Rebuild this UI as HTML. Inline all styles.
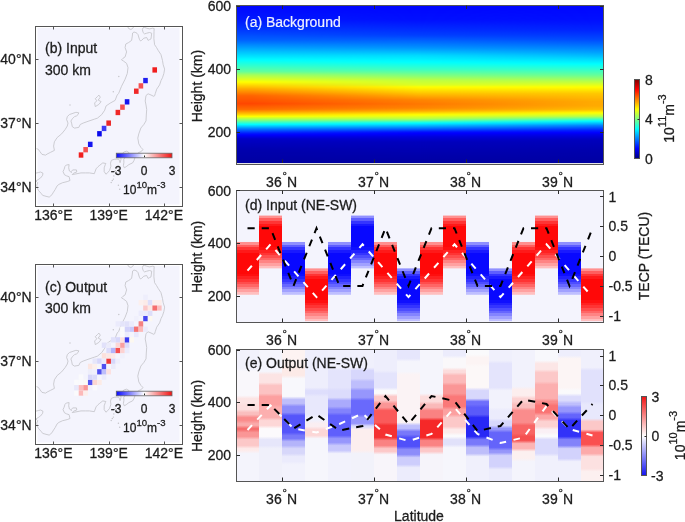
<!DOCTYPE html>
<html><head><meta charset="utf-8"><style>
html,body{margin:0;padding:0;background:#fff;width:685px;height:522px;overflow:hidden}
svg{display:block;font-family:"Liberation Sans", sans-serif;will-change:transform}
text{stroke:#1c1c1c;stroke-width:0.28px}
text.w{stroke:#eef0ff;stroke-width:0.2px}
</style></head><body>
<svg width="685" height="522" viewBox="0 0 685 522">
<defs><linearGradient id="gAL" x1="0" y1="0" x2="0" y2="1"><stop offset="0.0032" stop-color="#0007ff"/><stop offset="0.0096" stop-color="#0008ff"/><stop offset="0.0159" stop-color="#000aff"/><stop offset="0.0223" stop-color="#000bff"/><stop offset="0.0287" stop-color="#000dff"/><stop offset="0.0350" stop-color="#000eff"/><stop offset="0.0414" stop-color="#000fff"/><stop offset="0.0478" stop-color="#0011ff"/><stop offset="0.0541" stop-color="#0012ff"/><stop offset="0.0605" stop-color="#0013ff"/><stop offset="0.0669" stop-color="#0015ff"/><stop offset="0.0732" stop-color="#0016ff"/><stop offset="0.0796" stop-color="#0017ff"/><stop offset="0.0860" stop-color="#0019ff"/><stop offset="0.0924" stop-color="#001bff"/><stop offset="0.0987" stop-color="#001eff"/><stop offset="0.1051" stop-color="#0021ff"/><stop offset="0.1115" stop-color="#0024ff"/><stop offset="0.1178" stop-color="#0027ff"/><stop offset="0.1242" stop-color="#002aff"/><stop offset="0.1306" stop-color="#002dff"/><stop offset="0.1369" stop-color="#0030ff"/><stop offset="0.1433" stop-color="#0034ff"/><stop offset="0.1497" stop-color="#0037ff"/><stop offset="0.1561" stop-color="#003aff"/><stop offset="0.1624" stop-color="#003eff"/><stop offset="0.1688" stop-color="#0042ff"/><stop offset="0.1752" stop-color="#0046ff"/><stop offset="0.1815" stop-color="#004aff"/><stop offset="0.1879" stop-color="#004fff"/><stop offset="0.1943" stop-color="#0053ff"/><stop offset="0.2006" stop-color="#0057ff"/><stop offset="0.2070" stop-color="#005bff"/><stop offset="0.2134" stop-color="#005fff"/><stop offset="0.2197" stop-color="#0065ff"/><stop offset="0.2261" stop-color="#006dff"/><stop offset="0.2325" stop-color="#0075ff"/><stop offset="0.2389" stop-color="#007dff"/><stop offset="0.2452" stop-color="#0086ff"/><stop offset="0.2516" stop-color="#008eff"/><stop offset="0.2580" stop-color="#0096ff"/><stop offset="0.2643" stop-color="#009eff"/><stop offset="0.2707" stop-color="#00a6ff"/><stop offset="0.2771" stop-color="#00aeff"/><stop offset="0.2834" stop-color="#00b6ff"/><stop offset="0.2898" stop-color="#00beff"/><stop offset="0.2962" stop-color="#00c6ff"/><stop offset="0.3025" stop-color="#00cdff"/><stop offset="0.3089" stop-color="#00d5ff"/><stop offset="0.3153" stop-color="#00ddff"/><stop offset="0.3217" stop-color="#00e4ff"/><stop offset="0.3280" stop-color="#00ecff"/><stop offset="0.3344" stop-color="#00f4ff"/><stop offset="0.3408" stop-color="#00fbff"/><stop offset="0.3471" stop-color="#04fffb"/><stop offset="0.3535" stop-color="#0dfff2"/><stop offset="0.3599" stop-color="#16ffe9"/><stop offset="0.3662" stop-color="#1effe1"/><stop offset="0.3726" stop-color="#27ffd8"/><stop offset="0.3790" stop-color="#2fffd0"/><stop offset="0.3854" stop-color="#38ffc7"/><stop offset="0.3917" stop-color="#41ffbe"/><stop offset="0.3981" stop-color="#49ffb6"/><stop offset="0.4045" stop-color="#52ffad"/><stop offset="0.4108" stop-color="#5affa5"/><stop offset="0.4172" stop-color="#63ff9c"/><stop offset="0.4236" stop-color="#76ff89"/><stop offset="0.4299" stop-color="#8aff75"/><stop offset="0.4363" stop-color="#9eff61"/><stop offset="0.4427" stop-color="#aeff51"/><stop offset="0.4490" stop-color="#bbff44"/><stop offset="0.4554" stop-color="#c7ff38"/><stop offset="0.4618" stop-color="#d4ff2b"/><stop offset="0.4682" stop-color="#e0ff1f"/><stop offset="0.4745" stop-color="#ecff13"/><stop offset="0.4809" stop-color="#f9ff06"/><stop offset="0.4873" stop-color="#fff900"/><stop offset="0.4936" stop-color="#ffec00"/><stop offset="0.5000" stop-color="#ffe000"/><stop offset="0.5064" stop-color="#ffd300"/><stop offset="0.5127" stop-color="#ffc700"/><stop offset="0.5191" stop-color="#ffbb00"/><stop offset="0.5255" stop-color="#ffae00"/><stop offset="0.5318" stop-color="#ffa300"/><stop offset="0.5382" stop-color="#ff9900"/><stop offset="0.5446" stop-color="#ff8f00"/><stop offset="0.5510" stop-color="#ff8500"/><stop offset="0.5573" stop-color="#ff7a00"/><stop offset="0.5637" stop-color="#ff7000"/><stop offset="0.5701" stop-color="#ff6600"/><stop offset="0.5764" stop-color="#ff6100"/><stop offset="0.5828" stop-color="#ff5d00"/><stop offset="0.5892" stop-color="#ff5a00"/><stop offset="0.5955" stop-color="#ff5600"/><stop offset="0.6019" stop-color="#ff5200"/><stop offset="0.6083" stop-color="#ff4f00"/><stop offset="0.6146" stop-color="#ff4b00"/><stop offset="0.6210" stop-color="#ff4700"/><stop offset="0.6274" stop-color="#ff4c00"/><stop offset="0.6338" stop-color="#ff5300"/><stop offset="0.6401" stop-color="#ff5a00"/><stop offset="0.6465" stop-color="#ff6000"/><stop offset="0.6529" stop-color="#ff6700"/><stop offset="0.6592" stop-color="#ff6e00"/><stop offset="0.6656" stop-color="#ff8200"/><stop offset="0.6720" stop-color="#ff9500"/><stop offset="0.6783" stop-color="#ffa900"/><stop offset="0.6847" stop-color="#ffbc00"/><stop offset="0.6911" stop-color="#ffd100"/><stop offset="0.6975" stop-color="#ffe900"/><stop offset="0.7038" stop-color="#fcff03"/><stop offset="0.7102" stop-color="#dcff23"/><stop offset="0.7166" stop-color="#bdff42"/><stop offset="0.7229" stop-color="#9dff62"/><stop offset="0.7293" stop-color="#7dff82"/><stop offset="0.7357" stop-color="#5dffa2"/><stop offset="0.7420" stop-color="#3dffc2"/><stop offset="0.7484" stop-color="#1dffe2"/><stop offset="0.7548" stop-color="#00fcff"/><stop offset="0.7611" stop-color="#00dfff"/><stop offset="0.7675" stop-color="#00c2ff"/><stop offset="0.7739" stop-color="#00a4ff"/><stop offset="0.7803" stop-color="#0087ff"/><stop offset="0.7866" stop-color="#006dff"/><stop offset="0.7930" stop-color="#0058ff"/><stop offset="0.7994" stop-color="#0042ff"/><stop offset="0.8057" stop-color="#002cff"/><stop offset="0.8121" stop-color="#0017ff"/><stop offset="0.8185" stop-color="#0008ff"/><stop offset="0.8248" stop-color="#0000f8"/><stop offset="0.8312" stop-color="#0000ea"/><stop offset="0.8376" stop-color="#0000dc"/><stop offset="0.8439" stop-color="#0000ce"/><stop offset="0.8503" stop-color="#0000c6"/><stop offset="0.8567" stop-color="#0000c3"/><stop offset="0.8631" stop-color="#0000c1"/><stop offset="0.8694" stop-color="#0000bf"/><stop offset="0.8758" stop-color="#0000bc"/><stop offset="0.8822" stop-color="#0000ba"/><stop offset="0.8885" stop-color="#0000b8"/><stop offset="0.8949" stop-color="#0000b6"/><stop offset="0.9013" stop-color="#0000b3"/><stop offset="0.9076" stop-color="#0000b1"/><stop offset="0.9140" stop-color="#0000af"/><stop offset="0.9204" stop-color="#0000ad"/><stop offset="0.9268" stop-color="#0000ac"/><stop offset="0.9331" stop-color="#0000ab"/><stop offset="0.9395" stop-color="#0000aa"/><stop offset="0.9459" stop-color="#0000aa"/><stop offset="0.9522" stop-color="#0000a9"/><stop offset="0.9586" stop-color="#0000a8"/><stop offset="0.9650" stop-color="#0000a7"/><stop offset="0.9713" stop-color="#0000a6"/><stop offset="0.9777" stop-color="#0000a5"/><stop offset="0.9841" stop-color="#0000a4"/><stop offset="0.9904" stop-color="#0000a4"/><stop offset="0.9968" stop-color="#0000a3"/><stop offset="1.0032" stop-color="#0000a3"/></linearGradient><linearGradient id="gAM" x1="0" y1="0" x2="0" y2="1"><stop offset="0.0032" stop-color="#0006ff"/><stop offset="0.0096" stop-color="#0007ff"/><stop offset="0.0159" stop-color="#0007ff"/><stop offset="0.0223" stop-color="#0008ff"/><stop offset="0.0287" stop-color="#0009ff"/><stop offset="0.0350" stop-color="#000aff"/><stop offset="0.0414" stop-color="#000aff"/><stop offset="0.0478" stop-color="#000bff"/><stop offset="0.0541" stop-color="#000cff"/><stop offset="0.0605" stop-color="#000cff"/><stop offset="0.0669" stop-color="#000dff"/><stop offset="0.0732" stop-color="#000eff"/><stop offset="0.0796" stop-color="#000eff"/><stop offset="0.0860" stop-color="#000fff"/><stop offset="0.0924" stop-color="#0011ff"/><stop offset="0.0987" stop-color="#0014ff"/><stop offset="0.1051" stop-color="#0017ff"/><stop offset="0.1115" stop-color="#001aff"/><stop offset="0.1178" stop-color="#001dff"/><stop offset="0.1242" stop-color="#0020ff"/><stop offset="0.1306" stop-color="#0023ff"/><stop offset="0.1369" stop-color="#0026ff"/><stop offset="0.1433" stop-color="#0029ff"/><stop offset="0.1497" stop-color="#002cff"/><stop offset="0.1561" stop-color="#002fff"/><stop offset="0.1624" stop-color="#0032ff"/><stop offset="0.1688" stop-color="#0036ff"/><stop offset="0.1752" stop-color="#0039ff"/><stop offset="0.1815" stop-color="#003cff"/><stop offset="0.1879" stop-color="#0041ff"/><stop offset="0.1943" stop-color="#0047ff"/><stop offset="0.2006" stop-color="#004eff"/><stop offset="0.2070" stop-color="#0055ff"/><stop offset="0.2134" stop-color="#005bff"/><stop offset="0.2197" stop-color="#0062ff"/><stop offset="0.2261" stop-color="#0069ff"/><stop offset="0.2325" stop-color="#006fff"/><stop offset="0.2389" stop-color="#0076ff"/><stop offset="0.2452" stop-color="#007dff"/><stop offset="0.2516" stop-color="#0083ff"/><stop offset="0.2580" stop-color="#008aff"/><stop offset="0.2643" stop-color="#0091ff"/><stop offset="0.2707" stop-color="#0099ff"/><stop offset="0.2771" stop-color="#00a2ff"/><stop offset="0.2834" stop-color="#00abff"/><stop offset="0.2898" stop-color="#00b5ff"/><stop offset="0.2962" stop-color="#00beff"/><stop offset="0.3025" stop-color="#00c8ff"/><stop offset="0.3089" stop-color="#00d1ff"/><stop offset="0.3153" stop-color="#00daff"/><stop offset="0.3217" stop-color="#00e0ff"/><stop offset="0.3280" stop-color="#00e6ff"/><stop offset="0.3344" stop-color="#00ebff"/><stop offset="0.3408" stop-color="#00f1ff"/><stop offset="0.3471" stop-color="#00f7ff"/><stop offset="0.3535" stop-color="#00fcff"/><stop offset="0.3599" stop-color="#04fffb"/><stop offset="0.3662" stop-color="#0cfff3"/><stop offset="0.3726" stop-color="#14ffeb"/><stop offset="0.3790" stop-color="#1cffe3"/><stop offset="0.3854" stop-color="#24ffdb"/><stop offset="0.3917" stop-color="#2cffd3"/><stop offset="0.3981" stop-color="#34ffcb"/><stop offset="0.4045" stop-color="#3cffc3"/><stop offset="0.4108" stop-color="#48ffb7"/><stop offset="0.4172" stop-color="#54ffab"/><stop offset="0.4236" stop-color="#5fffa0"/><stop offset="0.4299" stop-color="#6bff94"/><stop offset="0.4363" stop-color="#77ff88"/><stop offset="0.4427" stop-color="#82ff7d"/><stop offset="0.4490" stop-color="#8eff71"/><stop offset="0.4554" stop-color="#9bff64"/><stop offset="0.4618" stop-color="#a8ff57"/><stop offset="0.4682" stop-color="#b6ff49"/><stop offset="0.4745" stop-color="#c0ff3f"/><stop offset="0.4809" stop-color="#c6ff39"/><stop offset="0.4873" stop-color="#ccff33"/><stop offset="0.4936" stop-color="#d2ff2d"/><stop offset="0.5000" stop-color="#d8ff27"/><stop offset="0.5064" stop-color="#e4ff1b"/><stop offset="0.5127" stop-color="#f6ff09"/><stop offset="0.5191" stop-color="#fffa00"/><stop offset="0.5255" stop-color="#fff100"/><stop offset="0.5318" stop-color="#ffe800"/><stop offset="0.5382" stop-color="#ffde00"/><stop offset="0.5446" stop-color="#ffd500"/><stop offset="0.5510" stop-color="#ffcc00"/><stop offset="0.5573" stop-color="#ffc200"/><stop offset="0.5637" stop-color="#ffb900"/><stop offset="0.5701" stop-color="#ffaf00"/><stop offset="0.5764" stop-color="#ffa600"/><stop offset="0.5828" stop-color="#ff9c00"/><stop offset="0.5892" stop-color="#ff9300"/><stop offset="0.5955" stop-color="#ff8900"/><stop offset="0.6019" stop-color="#ff8300"/><stop offset="0.6083" stop-color="#ff8000"/><stop offset="0.6146" stop-color="#ff7d00"/><stop offset="0.6210" stop-color="#ff7900"/><stop offset="0.6274" stop-color="#ff7900"/><stop offset="0.6338" stop-color="#ff7d00"/><stop offset="0.6401" stop-color="#ff8000"/><stop offset="0.6465" stop-color="#ff8300"/><stop offset="0.6529" stop-color="#ff8b00"/><stop offset="0.6592" stop-color="#ff9700"/><stop offset="0.6656" stop-color="#ffa400"/><stop offset="0.6720" stop-color="#ffb600"/><stop offset="0.6783" stop-color="#ffcd00"/><stop offset="0.6847" stop-color="#ffe400"/><stop offset="0.6911" stop-color="#fff900"/><stop offset="0.6975" stop-color="#f3ff0c"/><stop offset="0.7038" stop-color="#e0ff1f"/><stop offset="0.7102" stop-color="#ceff31"/><stop offset="0.7166" stop-color="#bcff43"/><stop offset="0.7229" stop-color="#9cff63"/><stop offset="0.7293" stop-color="#70ff8f"/><stop offset="0.7357" stop-color="#43ffbc"/><stop offset="0.7420" stop-color="#16ffe9"/><stop offset="0.7484" stop-color="#00f2ff"/><stop offset="0.7548" stop-color="#00d8ff"/><stop offset="0.7611" stop-color="#00bdff"/><stop offset="0.7675" stop-color="#00a3ff"/><stop offset="0.7739" stop-color="#0088ff"/><stop offset="0.7803" stop-color="#006eff"/><stop offset="0.7866" stop-color="#0053ff"/><stop offset="0.7930" stop-color="#0038ff"/><stop offset="0.7994" stop-color="#001dff"/><stop offset="0.8057" stop-color="#000aff"/><stop offset="0.8121" stop-color="#0000ff"/><stop offset="0.8185" stop-color="#0000f5"/><stop offset="0.8248" stop-color="#0000eb"/><stop offset="0.8312" stop-color="#0000e0"/><stop offset="0.8376" stop-color="#0000d8"/><stop offset="0.8439" stop-color="#0000d2"/><stop offset="0.8503" stop-color="#0000cc"/><stop offset="0.8567" stop-color="#0000c6"/><stop offset="0.8631" stop-color="#0000c0"/><stop offset="0.8694" stop-color="#0000bc"/><stop offset="0.8758" stop-color="#0000bb"/><stop offset="0.8822" stop-color="#0000ba"/><stop offset="0.8885" stop-color="#0000b8"/><stop offset="0.8949" stop-color="#0000b7"/><stop offset="0.9013" stop-color="#0000b6"/><stop offset="0.9076" stop-color="#0000b4"/><stop offset="0.9140" stop-color="#0000b3"/><stop offset="0.9204" stop-color="#0000b2"/><stop offset="0.9268" stop-color="#0000b1"/><stop offset="0.9331" stop-color="#0000af"/><stop offset="0.9395" stop-color="#0000ae"/><stop offset="0.9459" stop-color="#0000ad"/><stop offset="0.9522" stop-color="#0000ab"/><stop offset="0.9586" stop-color="#0000aa"/><stop offset="0.9650" stop-color="#0000a9"/><stop offset="0.9713" stop-color="#0000a8"/><stop offset="0.9777" stop-color="#0000a6"/><stop offset="0.9841" stop-color="#0000a5"/><stop offset="0.9904" stop-color="#0000a4"/><stop offset="0.9968" stop-color="#0000a3"/><stop offset="1.0032" stop-color="#0000a3"/></linearGradient><linearGradient id="gAR" x1="0" y1="0" x2="0" y2="1"><stop offset="0.0032" stop-color="#0006ff"/><stop offset="0.0096" stop-color="#0007ff"/><stop offset="0.0159" stop-color="#0007ff"/><stop offset="0.0223" stop-color="#0008ff"/><stop offset="0.0287" stop-color="#0009ff"/><stop offset="0.0350" stop-color="#000aff"/><stop offset="0.0414" stop-color="#000aff"/><stop offset="0.0478" stop-color="#000bff"/><stop offset="0.0541" stop-color="#000cff"/><stop offset="0.0605" stop-color="#000cff"/><stop offset="0.0669" stop-color="#000dff"/><stop offset="0.0732" stop-color="#000eff"/><stop offset="0.0796" stop-color="#000eff"/><stop offset="0.0860" stop-color="#000fff"/><stop offset="0.0924" stop-color="#0010ff"/><stop offset="0.0987" stop-color="#0012ff"/><stop offset="0.1051" stop-color="#0014ff"/><stop offset="0.1115" stop-color="#0016ff"/><stop offset="0.1178" stop-color="#0018ff"/><stop offset="0.1242" stop-color="#001bff"/><stop offset="0.1306" stop-color="#001dff"/><stop offset="0.1369" stop-color="#001fff"/><stop offset="0.1433" stop-color="#0021ff"/><stop offset="0.1497" stop-color="#0023ff"/><stop offset="0.1561" stop-color="#0026ff"/><stop offset="0.1624" stop-color="#002aff"/><stop offset="0.1688" stop-color="#002eff"/><stop offset="0.1752" stop-color="#0032ff"/><stop offset="0.1815" stop-color="#0036ff"/><stop offset="0.1879" stop-color="#003aff"/><stop offset="0.1943" stop-color="#003eff"/><stop offset="0.2006" stop-color="#0042ff"/><stop offset="0.2070" stop-color="#0046ff"/><stop offset="0.2134" stop-color="#004aff"/><stop offset="0.2197" stop-color="#0050ff"/><stop offset="0.2261" stop-color="#0057ff"/><stop offset="0.2325" stop-color="#005eff"/><stop offset="0.2389" stop-color="#0064ff"/><stop offset="0.2452" stop-color="#006bff"/><stop offset="0.2516" stop-color="#0072ff"/><stop offset="0.2580" stop-color="#0079ff"/><stop offset="0.2643" stop-color="#0080ff"/><stop offset="0.2707" stop-color="#0086ff"/><stop offset="0.2771" stop-color="#008dff"/><stop offset="0.2834" stop-color="#0094ff"/><stop offset="0.2898" stop-color="#009bff"/><stop offset="0.2962" stop-color="#00a2ff"/><stop offset="0.3025" stop-color="#00aaff"/><stop offset="0.3089" stop-color="#00b2ff"/><stop offset="0.3153" stop-color="#00baff"/><stop offset="0.3217" stop-color="#00c2ff"/><stop offset="0.3280" stop-color="#00cbff"/><stop offset="0.3344" stop-color="#00d3ff"/><stop offset="0.3408" stop-color="#00dbff"/><stop offset="0.3471" stop-color="#00e3ff"/><stop offset="0.3535" stop-color="#00ebff"/><stop offset="0.3599" stop-color="#00f3ff"/><stop offset="0.3662" stop-color="#00fbff"/><stop offset="0.3726" stop-color="#05fffa"/><stop offset="0.3790" stop-color="#0efff1"/><stop offset="0.3854" stop-color="#17ffe8"/><stop offset="0.3917" stop-color="#20ffdf"/><stop offset="0.3981" stop-color="#29ffd6"/><stop offset="0.4045" stop-color="#32ffcd"/><stop offset="0.4108" stop-color="#3bffc4"/><stop offset="0.4172" stop-color="#44ffbb"/><stop offset="0.4236" stop-color="#4dffb2"/><stop offset="0.4299" stop-color="#56ffa9"/><stop offset="0.4363" stop-color="#5fffa0"/><stop offset="0.4427" stop-color="#6aff95"/><stop offset="0.4490" stop-color="#77ff88"/><stop offset="0.4554" stop-color="#84ff7b"/><stop offset="0.4618" stop-color="#91ff6e"/><stop offset="0.4682" stop-color="#9eff61"/><stop offset="0.4745" stop-color="#abff54"/><stop offset="0.4809" stop-color="#b8ff47"/><stop offset="0.4873" stop-color="#c4ff3b"/><stop offset="0.4936" stop-color="#d1ff2e"/><stop offset="0.5000" stop-color="#ddff22"/><stop offset="0.5064" stop-color="#eaff15"/><stop offset="0.5127" stop-color="#f6ff09"/><stop offset="0.5191" stop-color="#fffb00"/><stop offset="0.5255" stop-color="#fff200"/><stop offset="0.5318" stop-color="#ffea00"/><stop offset="0.5382" stop-color="#ffe100"/><stop offset="0.5446" stop-color="#ffd800"/><stop offset="0.5510" stop-color="#ffd000"/><stop offset="0.5573" stop-color="#ffc800"/><stop offset="0.5637" stop-color="#ffc400"/><stop offset="0.5701" stop-color="#ffc000"/><stop offset="0.5764" stop-color="#ffbc00"/><stop offset="0.5828" stop-color="#ffb900"/><stop offset="0.5892" stop-color="#ffb500"/><stop offset="0.5955" stop-color="#ffb100"/><stop offset="0.6019" stop-color="#ffae00"/><stop offset="0.6083" stop-color="#ffaa00"/><stop offset="0.6146" stop-color="#ffaa00"/><stop offset="0.6210" stop-color="#ffaa00"/><stop offset="0.6274" stop-color="#ffaa00"/><stop offset="0.6338" stop-color="#ffaa00"/><stop offset="0.6401" stop-color="#ffad00"/><stop offset="0.6465" stop-color="#ffb200"/><stop offset="0.6529" stop-color="#ffb700"/><stop offset="0.6592" stop-color="#ffbd00"/><stop offset="0.6656" stop-color="#ffd000"/><stop offset="0.6720" stop-color="#ffe400"/><stop offset="0.6783" stop-color="#fff700"/><stop offset="0.6847" stop-color="#f2ff0d"/><stop offset="0.6911" stop-color="#dcff23"/><stop offset="0.6975" stop-color="#c6ff39"/><stop offset="0.7038" stop-color="#afff50"/><stop offset="0.7102" stop-color="#88ff77"/><stop offset="0.7166" stop-color="#61ff9e"/><stop offset="0.7229" stop-color="#3affc5"/><stop offset="0.7293" stop-color="#13ffec"/><stop offset="0.7357" stop-color="#00f1ff"/><stop offset="0.7420" stop-color="#00d5ff"/><stop offset="0.7484" stop-color="#00baff"/><stop offset="0.7548" stop-color="#009eff"/><stop offset="0.7611" stop-color="#0082ff"/><stop offset="0.7675" stop-color="#006dff"/><stop offset="0.7739" stop-color="#0057ff"/><stop offset="0.7803" stop-color="#0042ff"/><stop offset="0.7866" stop-color="#002dff"/><stop offset="0.7930" stop-color="#001bff"/><stop offset="0.7994" stop-color="#000fff"/><stop offset="0.8057" stop-color="#0003ff"/><stop offset="0.8121" stop-color="#0000f5"/><stop offset="0.8185" stop-color="#0000e9"/><stop offset="0.8248" stop-color="#0000e0"/><stop offset="0.8312" stop-color="#0000d8"/><stop offset="0.8376" stop-color="#0000d0"/><stop offset="0.8439" stop-color="#0000c8"/><stop offset="0.8503" stop-color="#0000c1"/><stop offset="0.8567" stop-color="#0000bc"/><stop offset="0.8631" stop-color="#0000ba"/><stop offset="0.8694" stop-color="#0000b9"/><stop offset="0.8758" stop-color="#0000b7"/><stop offset="0.8822" stop-color="#0000b6"/><stop offset="0.8885" stop-color="#0000b4"/><stop offset="0.8949" stop-color="#0000b3"/><stop offset="0.9013" stop-color="#0000b1"/><stop offset="0.9076" stop-color="#0000b0"/><stop offset="0.9140" stop-color="#0000ae"/><stop offset="0.9204" stop-color="#0000ad"/><stop offset="0.9268" stop-color="#0000ac"/><stop offset="0.9331" stop-color="#0000ab"/><stop offset="0.9395" stop-color="#0000aa"/><stop offset="0.9459" stop-color="#0000aa"/><stop offset="0.9522" stop-color="#0000a9"/><stop offset="0.9586" stop-color="#0000a8"/><stop offset="0.9650" stop-color="#0000a7"/><stop offset="0.9713" stop-color="#0000a6"/><stop offset="0.9777" stop-color="#0000a5"/><stop offset="0.9841" stop-color="#0000a4"/><stop offset="0.9904" stop-color="#0000a4"/><stop offset="0.9968" stop-color="#0000a3"/><stop offset="1.0032" stop-color="#0000a3"/></linearGradient><linearGradient id="hm1" gradientUnits="userSpaceOnUse" x1="250" y1="0" x2="420" y2="0"><stop offset="0" stop-color="#000"/><stop offset="1" stop-color="#fff"/></linearGradient><linearGradient id="hm2" gradientUnits="userSpaceOnUse" x1="420" y1="0" x2="595" y2="0"><stop offset="0" stop-color="#000"/><stop offset="1" stop-color="#fff"/></linearGradient><mask id="mk1" maskUnits="userSpaceOnUse" x="0" y="0" width="685" height="522"><rect x="236" y="5" width="368" height="159" fill="url(#hm1)"/></mask><mask id="mk2" maskUnits="userSpaceOnUse" x="0" y="0" width="685" height="522"><rect x="236" y="5" width="368" height="159" fill="url(#hm2)"/></mask><linearGradient id="gDR" x1="0" y1="0" x2="0" y2="1"><stop offset="0.0000" stop-color="#ff9090"/><stop offset="0.0500" stop-color="#ff9090"/><stop offset="0.0500" stop-color="#ff5e5e"/><stop offset="0.1000" stop-color="#ff5e5e"/><stop offset="0.1000" stop-color="#ff3434"/><stop offset="0.1500" stop-color="#ff3434"/><stop offset="0.1500" stop-color="#ff1919"/><stop offset="0.2000" stop-color="#ff1919"/><stop offset="0.2000" stop-color="#ff0808"/><stop offset="0.2500" stop-color="#ff0808"/><stop offset="0.2500" stop-color="#ff0808"/><stop offset="0.3000" stop-color="#ff0808"/><stop offset="0.3000" stop-color="#ff0808"/><stop offset="0.3500" stop-color="#ff0808"/><stop offset="0.3500" stop-color="#ff0808"/><stop offset="0.4000" stop-color="#ff0808"/><stop offset="0.4000" stop-color="#ff0808"/><stop offset="0.4500" stop-color="#ff0808"/><stop offset="0.4500" stop-color="#ff0808"/><stop offset="0.5000" stop-color="#ff0808"/><stop offset="0.5000" stop-color="#ff0808"/><stop offset="0.5500" stop-color="#ff0808"/><stop offset="0.5500" stop-color="#ff0808"/><stop offset="0.6000" stop-color="#ff0808"/><stop offset="0.6000" stop-color="#ff0f0f"/><stop offset="0.6500" stop-color="#ff0f0f"/><stop offset="0.6500" stop-color="#ff2121"/><stop offset="0.7000" stop-color="#ff2121"/><stop offset="0.7000" stop-color="#ff3434"/><stop offset="0.7500" stop-color="#ff3434"/><stop offset="0.7500" stop-color="#ff4d4d"/><stop offset="0.8000" stop-color="#ff4d4d"/><stop offset="0.8000" stop-color="#ff6666"/><stop offset="0.8500" stop-color="#ff6666"/><stop offset="0.8500" stop-color="#ff8484"/><stop offset="0.9000" stop-color="#ff8484"/><stop offset="0.9000" stop-color="#ffa1a1"/><stop offset="0.9500" stop-color="#ffa1a1"/><stop offset="0.9500" stop-color="#ffbfbf"/><stop offset="1.0000" stop-color="#ffbfbf"/></linearGradient><linearGradient id="gDB" x1="0" y1="0" x2="0" y2="1"><stop offset="0.0000" stop-color="#9090ff"/><stop offset="0.0500" stop-color="#9090ff"/><stop offset="0.0500" stop-color="#5e5eff"/><stop offset="0.1000" stop-color="#5e5eff"/><stop offset="0.1000" stop-color="#3434ff"/><stop offset="0.1500" stop-color="#3434ff"/><stop offset="0.1500" stop-color="#1919ff"/><stop offset="0.2000" stop-color="#1919ff"/><stop offset="0.2000" stop-color="#0808ff"/><stop offset="0.2500" stop-color="#0808ff"/><stop offset="0.2500" stop-color="#0808ff"/><stop offset="0.3000" stop-color="#0808ff"/><stop offset="0.3000" stop-color="#0808ff"/><stop offset="0.3500" stop-color="#0808ff"/><stop offset="0.3500" stop-color="#0808ff"/><stop offset="0.4000" stop-color="#0808ff"/><stop offset="0.4000" stop-color="#0808ff"/><stop offset="0.4500" stop-color="#0808ff"/><stop offset="0.4500" stop-color="#0808ff"/><stop offset="0.5000" stop-color="#0808ff"/><stop offset="0.5000" stop-color="#0808ff"/><stop offset="0.5500" stop-color="#0808ff"/><stop offset="0.5500" stop-color="#0808ff"/><stop offset="0.6000" stop-color="#0808ff"/><stop offset="0.6000" stop-color="#0f0fff"/><stop offset="0.6500" stop-color="#0f0fff"/><stop offset="0.6500" stop-color="#2121ff"/><stop offset="0.7000" stop-color="#2121ff"/><stop offset="0.7000" stop-color="#3434ff"/><stop offset="0.7500" stop-color="#3434ff"/><stop offset="0.7500" stop-color="#4d4dff"/><stop offset="0.8000" stop-color="#4d4dff"/><stop offset="0.8000" stop-color="#6666ff"/><stop offset="0.8500" stop-color="#6666ff"/><stop offset="0.8500" stop-color="#8484ff"/><stop offset="0.9000" stop-color="#8484ff"/><stop offset="0.9000" stop-color="#a1a1ff"/><stop offset="0.9500" stop-color="#a1a1ff"/><stop offset="0.9500" stop-color="#bfbfff"/><stop offset="1.0000" stop-color="#bfbfff"/></linearGradient><clipPath id="clipD"><rect x="237" y="191" width="366" height="131"/></clipPath><clipPath id="clipE"><rect x="237" y="350" width="366" height="131"/></clipPath><linearGradient id="gE0" x1="0" y1="0" x2="0" y2="1"><stop offset="0.0120" stop-color="#f2f2fc"/><stop offset="0.1459" stop-color="#f2f2fc"/><stop offset="0.1699" stop-color="#f9f7fb"/><stop offset="0.3489" stop-color="#f9f7fb"/><stop offset="0.3729" stop-color="#fce4e4"/><stop offset="0.4015" stop-color="#fce4e4"/><stop offset="0.4256" stop-color="#fcdede"/><stop offset="0.4541" stop-color="#fcdede"/><stop offset="0.4782" stop-color="#fabebe"/><stop offset="0.4917" stop-color="#fabebe"/><stop offset="0.5158" stop-color="#fa8c8c"/><stop offset="0.5368" stop-color="#fa8c8c"/><stop offset="0.5609" stop-color="#faaaaa"/><stop offset="0.5744" stop-color="#faaaaa"/><stop offset="0.5970" stop-color="#f56e6e"/><stop offset="0.6060" stop-color="#f56e6e"/><stop offset="0.6286" stop-color="#fa9696"/><stop offset="0.6571" stop-color="#fa9696"/><stop offset="0.6812" stop-color="#fcc8c8"/><stop offset="0.7248" stop-color="#fcc8c8"/><stop offset="0.7489" stop-color="#fdebeb"/><stop offset="0.7624" stop-color="#fdebeb"/><stop offset="0.7865" stop-color="#f4f4fc"/><stop offset="0.9880" stop-color="#f4f4fc"/></linearGradient><linearGradient id="gE1" x1="0" y1="0" x2="0" y2="1"><stop offset="0.0120" stop-color="#f5f5fc"/><stop offset="0.1684" stop-color="#f5f5fc"/><stop offset="0.1925" stop-color="#fce4e4"/><stop offset="0.2511" stop-color="#fce4e4"/><stop offset="0.2752" stop-color="#fcc3c3"/><stop offset="0.3338" stop-color="#fcc3c3"/><stop offset="0.3579" stop-color="#fca0a0"/><stop offset="0.4165" stop-color="#fca0a0"/><stop offset="0.4406" stop-color="#fcafaf"/><stop offset="0.5143" stop-color="#fcafaf"/><stop offset="0.5383" stop-color="#fdd7d7"/><stop offset="0.5744" stop-color="#fdd7d7"/><stop offset="0.5985" stop-color="#fcfafc"/><stop offset="0.6571" stop-color="#fcfafc"/><stop offset="0.6812" stop-color="#e6e6fa"/><stop offset="0.7248" stop-color="#e6e6fa"/><stop offset="0.7489" stop-color="#f0f0fa"/><stop offset="0.9880" stop-color="#f0f0fa"/></linearGradient><linearGradient id="gE2" x1="0" y1="0" x2="0" y2="1"><stop offset="0.0120" stop-color="#fdf3f2"/><stop offset="0.1158" stop-color="#fdf3f2"/><stop offset="0.1398" stop-color="#fceae7"/><stop offset="0.1985" stop-color="#fceae7"/><stop offset="0.2226" stop-color="#f8f8fc"/><stop offset="0.3564" stop-color="#f8f8fc"/><stop offset="0.3805" stop-color="#bebefa"/><stop offset="0.4090" stop-color="#bebefa"/><stop offset="0.4331" stop-color="#8c8cfa"/><stop offset="0.4767" stop-color="#8c8cfa"/><stop offset="0.5008" stop-color="#5555fa"/><stop offset="0.6271" stop-color="#5555fa"/><stop offset="0.6511" stop-color="#7878fa"/><stop offset="0.6722" stop-color="#7878fa"/><stop offset="0.6962" stop-color="#b4b4fa"/><stop offset="0.7248" stop-color="#b4b4fa"/><stop offset="0.7489" stop-color="#d7d7fa"/><stop offset="0.7850" stop-color="#d7d7fa"/><stop offset="0.8090" stop-color="#ebebfc"/><stop offset="0.8451" stop-color="#ebebfc"/><stop offset="0.8692" stop-color="#f2f2fc"/><stop offset="0.9880" stop-color="#f2f2fc"/></linearGradient><linearGradient id="gE3" x1="0" y1="0" x2="0" y2="1"><stop offset="0.0120" stop-color="#eeeefc"/><stop offset="0.2887" stop-color="#eeeefc"/><stop offset="0.3128" stop-color="#dedefc"/><stop offset="0.3338" stop-color="#dedefc"/><stop offset="0.3579" stop-color="#e8e8fc"/><stop offset="0.4917" stop-color="#e8e8fc"/><stop offset="0.5158" stop-color="#f0f0fc"/><stop offset="0.5368" stop-color="#f0f0fc"/><stop offset="0.5609" stop-color="#faeef2"/><stop offset="0.5820" stop-color="#faeef2"/><stop offset="0.6060" stop-color="#fcd7d7"/><stop offset="0.6496" stop-color="#fcd7d7"/><stop offset="0.6737" stop-color="#f6f6fc"/><stop offset="0.9880" stop-color="#f6f6fc"/></linearGradient><linearGradient id="gE4" x1="0" y1="0" x2="0" y2="1"><stop offset="0.0120" stop-color="#f0f0fc"/><stop offset="0.1383" stop-color="#f0f0fc"/><stop offset="0.1624" stop-color="#e4e4fc"/><stop offset="0.2887" stop-color="#e4e4fc"/><stop offset="0.3128" stop-color="#dcdcfc"/><stop offset="0.3639" stop-color="#dcdcfc"/><stop offset="0.3880" stop-color="#aaaafc"/><stop offset="0.4316" stop-color="#aaaafc"/><stop offset="0.4556" stop-color="#8282fc"/><stop offset="0.4767" stop-color="#8282fc"/><stop offset="0.5008" stop-color="#5f5ffc"/><stop offset="0.6496" stop-color="#5f5ffc"/><stop offset="0.6737" stop-color="#9696fc"/><stop offset="0.7023" stop-color="#9696fc"/><stop offset="0.7263" stop-color="#c8c8fc"/><stop offset="0.7624" stop-color="#c8c8fc"/><stop offset="0.7865" stop-color="#f2f2fc"/><stop offset="0.9880" stop-color="#f2f2fc"/></linearGradient><linearGradient id="gE5" x1="0" y1="0" x2="0" y2="1"><stop offset="0.0120" stop-color="#f0f0fc"/><stop offset="0.1383" stop-color="#f0f0fc"/><stop offset="0.1624" stop-color="#d7d7fc"/><stop offset="0.2211" stop-color="#d7d7fc"/><stop offset="0.2451" stop-color="#bebefc"/><stop offset="0.2887" stop-color="#bebefc"/><stop offset="0.3128" stop-color="#9696fc"/><stop offset="0.3639" stop-color="#9696fc"/><stop offset="0.3880" stop-color="#6969fc"/><stop offset="0.4917" stop-color="#6969fc"/><stop offset="0.5158" stop-color="#9696fc"/><stop offset="0.5594" stop-color="#9696fc"/><stop offset="0.5793" stop-color="#dcdcfa"/><stop offset="0.5861" stop-color="#dcdcfa"/><stop offset="0.6060" stop-color="#fceeee"/><stop offset="0.7624" stop-color="#fceeee"/><stop offset="0.7865" stop-color="#f2f2fa"/><stop offset="0.9880" stop-color="#f2f2fa"/></linearGradient><linearGradient id="gE6" x1="0" y1="0" x2="0" y2="1"><stop offset="0.0120" stop-color="#eeeefc"/><stop offset="0.1609" stop-color="#eeeefc"/><stop offset="0.1850" stop-color="#e4e4fc"/><stop offset="0.2887" stop-color="#e4e4fc"/><stop offset="0.3128" stop-color="#fafafc"/><stop offset="0.3338" stop-color="#fafafc"/><stop offset="0.3579" stop-color="#fcc8c8"/><stop offset="0.3865" stop-color="#fcc8c8"/><stop offset="0.4105" stop-color="#fa9696"/><stop offset="0.4391" stop-color="#fa9696"/><stop offset="0.4632" stop-color="#fa5a5a"/><stop offset="0.5519" stop-color="#fa5a5a"/><stop offset="0.5759" stop-color="#f53232"/><stop offset="0.6647" stop-color="#f53232"/><stop offset="0.6887" stop-color="#fa8282"/><stop offset="0.7248" stop-color="#fa8282"/><stop offset="0.7489" stop-color="#fcc8c8"/><stop offset="0.7699" stop-color="#fcc8c8"/><stop offset="0.7940" stop-color="#f8f5fa"/><stop offset="0.9880" stop-color="#f8f5fa"/></linearGradient><linearGradient id="gE7" x1="0" y1="0" x2="0" y2="1"><stop offset="0.0120" stop-color="#e6e6fc"/><stop offset="0.0707" stop-color="#e6e6fc"/><stop offset="0.0947" stop-color="#f5f5fc"/><stop offset="0.1684" stop-color="#f5f5fc"/><stop offset="0.1925" stop-color="#fbf3f5"/><stop offset="0.5519" stop-color="#fbf3f5"/><stop offset="0.5759" stop-color="#bebefc"/><stop offset="0.5970" stop-color="#bebefc"/><stop offset="0.6211" stop-color="#7878fa"/><stop offset="0.6421" stop-color="#7878fa"/><stop offset="0.6662" stop-color="#5050fa"/><stop offset="0.7323" stop-color="#5050fa"/><stop offset="0.7564" stop-color="#8c8cfa"/><stop offset="0.7925" stop-color="#8c8cfa"/><stop offset="0.8165" stop-color="#cdcdfc"/><stop offset="0.8677" stop-color="#cdcdfc"/><stop offset="0.8917" stop-color="#ececfc"/><stop offset="0.9880" stop-color="#ececfc"/></linearGradient><linearGradient id="gE8" x1="0" y1="0" x2="0" y2="1"><stop offset="0.0120" stop-color="#f5f5fc"/><stop offset="0.3338" stop-color="#f5f5fc"/><stop offset="0.3579" stop-color="#fcdcdc"/><stop offset="0.3940" stop-color="#fcdcdc"/><stop offset="0.4180" stop-color="#fab9b9"/><stop offset="0.4391" stop-color="#fab9b9"/><stop offset="0.4632" stop-color="#fa8282"/><stop offset="0.5143" stop-color="#fa8282"/><stop offset="0.5383" stop-color="#f52828"/><stop offset="0.6647" stop-color="#f52828"/><stop offset="0.6887" stop-color="#fa8282"/><stop offset="0.7248" stop-color="#fa8282"/><stop offset="0.7489" stop-color="#fcc8c8"/><stop offset="0.7699" stop-color="#fcc8c8"/><stop offset="0.7940" stop-color="#f6f4fa"/><stop offset="0.9880" stop-color="#f6f4fa"/></linearGradient><linearGradient id="gE9" x1="0" y1="0" x2="0" y2="1"><stop offset="0.0120" stop-color="#ececfc"/><stop offset="0.0481" stop-color="#ececfc"/><stop offset="0.0722" stop-color="#faf8fa"/><stop offset="0.1383" stop-color="#faf8fa"/><stop offset="0.1624" stop-color="#fcdcdc"/><stop offset="0.1759" stop-color="#fcdcdc"/><stop offset="0.2000" stop-color="#fcb9b9"/><stop offset="0.2511" stop-color="#fcb9b9"/><stop offset="0.2752" stop-color="#fa9696"/><stop offset="0.3338" stop-color="#fa9696"/><stop offset="0.3579" stop-color="#fa7878"/><stop offset="0.4316" stop-color="#fa7878"/><stop offset="0.4556" stop-color="#fca0a0"/><stop offset="0.4917" stop-color="#fca0a0"/><stop offset="0.5158" stop-color="#fcc8c8"/><stop offset="0.5820" stop-color="#fcc8c8"/><stop offset="0.6060" stop-color="#fcebeb"/><stop offset="0.6271" stop-color="#fcebeb"/><stop offset="0.6496" stop-color="#fafafc"/><stop offset="0.6586" stop-color="#fafafc"/><stop offset="0.6812" stop-color="#e1e1fa"/><stop offset="0.7173" stop-color="#e1e1fa"/><stop offset="0.7414" stop-color="#f6f6fc"/><stop offset="0.9880" stop-color="#f6f6fc"/></linearGradient><linearGradient id="gE10" x1="0" y1="0" x2="0" y2="1"><stop offset="0.0120" stop-color="#fafafc"/><stop offset="0.0406" stop-color="#fafafc"/><stop offset="0.0647" stop-color="#fcf4f4"/><stop offset="0.1083" stop-color="#fcf4f4"/><stop offset="0.1323" stop-color="#fcf8f8"/><stop offset="0.2887" stop-color="#fcf8f8"/><stop offset="0.3128" stop-color="#d7d7fc"/><stop offset="0.3714" stop-color="#d7d7fc"/><stop offset="0.3955" stop-color="#6e6efc"/><stop offset="0.4165" stop-color="#6e6efc"/><stop offset="0.4406" stop-color="#5a5afa"/><stop offset="0.4917" stop-color="#5a5afa"/><stop offset="0.5158" stop-color="#2828f5"/><stop offset="0.6571" stop-color="#2828f5"/><stop offset="0.6812" stop-color="#7878fa"/><stop offset="0.7173" stop-color="#7878fa"/><stop offset="0.7414" stop-color="#bebefa"/><stop offset="0.7850" stop-color="#bebefa"/><stop offset="0.8090" stop-color="#f0f0fc"/><stop offset="0.9880" stop-color="#f0f0fc"/></linearGradient><linearGradient id="gE11" x1="0" y1="0" x2="0" y2="1"><stop offset="0.0120" stop-color="#f0f0fc"/><stop offset="0.0857" stop-color="#f0f0fc"/><stop offset="0.1098" stop-color="#e4e4fc"/><stop offset="0.2887" stop-color="#e4e4fc"/><stop offset="0.3128" stop-color="#f2f2fc"/><stop offset="0.4391" stop-color="#f2f2fc"/><stop offset="0.4632" stop-color="#ebebfc"/><stop offset="0.5218" stop-color="#ebebfc"/><stop offset="0.5459" stop-color="#d7d7fc"/><stop offset="0.5744" stop-color="#d7d7fc"/><stop offset="0.5970" stop-color="#9696fa"/><stop offset="0.6060" stop-color="#9696fa"/><stop offset="0.6286" stop-color="#6464fa"/><stop offset="0.7398" stop-color="#6464fa"/><stop offset="0.7639" stop-color="#9696fa"/><stop offset="0.7774" stop-color="#9696fa"/><stop offset="0.8015" stop-color="#d2d2fc"/><stop offset="0.8827" stop-color="#d2d2fc"/><stop offset="0.9068" stop-color="#ececfc"/><stop offset="0.9880" stop-color="#ececfc"/></linearGradient><linearGradient id="gE12" x1="0" y1="0" x2="0" y2="1"><stop offset="0.0120" stop-color="#f2f2fc"/><stop offset="0.2812" stop-color="#f2f2fc"/><stop offset="0.3053" stop-color="#fceeee"/><stop offset="0.3489" stop-color="#fceeee"/><stop offset="0.3729" stop-color="#fcd2d2"/><stop offset="0.3940" stop-color="#fcd2d2"/><stop offset="0.4180" stop-color="#fabebe"/><stop offset="0.4391" stop-color="#fabebe"/><stop offset="0.4632" stop-color="#fa8c8c"/><stop offset="0.5519" stop-color="#fa8c8c"/><stop offset="0.5759" stop-color="#f86464"/><stop offset="0.6346" stop-color="#f86464"/><stop offset="0.6586" stop-color="#f55050"/><stop offset="0.6872" stop-color="#f55050"/><stop offset="0.7113" stop-color="#fcb4b4"/><stop offset="0.7474" stop-color="#fcb4b4"/><stop offset="0.7714" stop-color="#fcf0f0"/><stop offset="0.8226" stop-color="#fcf0f0"/><stop offset="0.8466" stop-color="#f4f4fc"/><stop offset="0.9880" stop-color="#f4f4fc"/></linearGradient><linearGradient id="gE13" x1="0" y1="0" x2="0" y2="1"><stop offset="0.0120" stop-color="#f8f8fc"/><stop offset="0.0857" stop-color="#f8f8fc"/><stop offset="0.1098" stop-color="#fce6e6"/><stop offset="0.1534" stop-color="#fce6e6"/><stop offset="0.1774" stop-color="#fcc8c8"/><stop offset="0.2436" stop-color="#fcc8c8"/><stop offset="0.2677" stop-color="#fcafaf"/><stop offset="0.3714" stop-color="#fcafaf"/><stop offset="0.3940" stop-color="#fa8c8c"/><stop offset="0.4030" stop-color="#fa8c8c"/><stop offset="0.4256" stop-color="#fa7373"/><stop offset="0.4767" stop-color="#fa7373"/><stop offset="0.5008" stop-color="#fca5a5"/><stop offset="0.5218" stop-color="#fca5a5"/><stop offset="0.5459" stop-color="#fcd2d2"/><stop offset="0.5820" stop-color="#fcd2d2"/><stop offset="0.6060" stop-color="#faf0f5"/><stop offset="0.6271" stop-color="#faf0f5"/><stop offset="0.6496" stop-color="#fafafc"/><stop offset="0.6586" stop-color="#fafafc"/><stop offset="0.6812" stop-color="#dadafc"/><stop offset="0.7850" stop-color="#dadafc"/><stop offset="0.8090" stop-color="#f0f0fc"/><stop offset="0.9880" stop-color="#f0f0fc"/></linearGradient><linearGradient id="gE14" x1="0" y1="0" x2="0" y2="1"><stop offset="0.0120" stop-color="#eeeefc"/><stop offset="0.0481" stop-color="#eeeefc"/><stop offset="0.0722" stop-color="#fcf5f5"/><stop offset="0.2887" stop-color="#fcf5f5"/><stop offset="0.3128" stop-color="#fafafc"/><stop offset="0.3338" stop-color="#fafafc"/><stop offset="0.3579" stop-color="#dcdcfc"/><stop offset="0.3865" stop-color="#dcdcfc"/><stop offset="0.4090" stop-color="#bebefc"/><stop offset="0.4180" stop-color="#bebefc"/><stop offset="0.4406" stop-color="#9696fc"/><stop offset="0.4692" stop-color="#9696fc"/><stop offset="0.4932" stop-color="#6464fc"/><stop offset="0.5143" stop-color="#6464fc"/><stop offset="0.5383" stop-color="#3232f8"/><stop offset="0.6571" stop-color="#3232f8"/><stop offset="0.6812" stop-color="#8282fa"/><stop offset="0.7248" stop-color="#8282fa"/><stop offset="0.7489" stop-color="#d2d2fc"/><stop offset="0.8226" stop-color="#d2d2fc"/><stop offset="0.8466" stop-color="#f0f0fc"/><stop offset="0.9880" stop-color="#f0f0fc"/></linearGradient><linearGradient id="gE15" x1="0" y1="0" x2="0" y2="1"><stop offset="0.0120" stop-color="#f0f0fc"/><stop offset="0.1383" stop-color="#f0f0fc"/><stop offset="0.1624" stop-color="#e1e1fc"/><stop offset="0.3940" stop-color="#e1e1fc"/><stop offset="0.4180" stop-color="#e8e8fc"/><stop offset="0.5218" stop-color="#e8e8fc"/><stop offset="0.5459" stop-color="#fcc8c8"/><stop offset="0.6045" stop-color="#fcc8c8"/><stop offset="0.6286" stop-color="#fa5050"/><stop offset="0.7173" stop-color="#fa5050"/><stop offset="0.7414" stop-color="#fcaaaa"/><stop offset="0.7850" stop-color="#fcaaaa"/><stop offset="0.8090" stop-color="#fce1e1"/><stop offset="0.8977" stop-color="#fce1e1"/><stop offset="0.9218" stop-color="#fcf0f0"/><stop offset="0.9880" stop-color="#fcf0f0"/></linearGradient><linearGradient id="gCA" x1="0" y1="0" x2="0" y2="1"><stop offset="0.0000" stop-color="#800000"/><stop offset="0.0156" stop-color="#8f0000"/><stop offset="0.0312" stop-color="#9f0000"/><stop offset="0.0469" stop-color="#af0000"/><stop offset="0.0625" stop-color="#bf0000"/><stop offset="0.0781" stop-color="#cf0000"/><stop offset="0.0938" stop-color="#df0000"/><stop offset="0.1094" stop-color="#ef0000"/><stop offset="0.1250" stop-color="#ff0000"/><stop offset="0.1406" stop-color="#ff1000"/><stop offset="0.1562" stop-color="#ff2000"/><stop offset="0.1719" stop-color="#ff3000"/><stop offset="0.1875" stop-color="#ff4000"/><stop offset="0.2031" stop-color="#ff5000"/><stop offset="0.2188" stop-color="#ff6000"/><stop offset="0.2344" stop-color="#ff7000"/><stop offset="0.2500" stop-color="#ff8000"/><stop offset="0.2656" stop-color="#ff8f00"/><stop offset="0.2812" stop-color="#ff9f00"/><stop offset="0.2969" stop-color="#ffaf00"/><stop offset="0.3125" stop-color="#ffbf00"/><stop offset="0.3281" stop-color="#ffcf00"/><stop offset="0.3438" stop-color="#ffdf00"/><stop offset="0.3594" stop-color="#ffef00"/><stop offset="0.3750" stop-color="#ffff00"/><stop offset="0.3906" stop-color="#efff10"/><stop offset="0.4062" stop-color="#dfff20"/><stop offset="0.4219" stop-color="#cfff30"/><stop offset="0.4375" stop-color="#bfff40"/><stop offset="0.4531" stop-color="#afff50"/><stop offset="0.4688" stop-color="#9fff60"/><stop offset="0.4844" stop-color="#8fff70"/><stop offset="0.5000" stop-color="#80ff80"/><stop offset="0.5156" stop-color="#70ff8f"/><stop offset="0.5312" stop-color="#60ff9f"/><stop offset="0.5469" stop-color="#50ffaf"/><stop offset="0.5625" stop-color="#40ffbf"/><stop offset="0.5781" stop-color="#30ffcf"/><stop offset="0.5938" stop-color="#20ffdf"/><stop offset="0.6094" stop-color="#10ffef"/><stop offset="0.6250" stop-color="#00ffff"/><stop offset="0.6406" stop-color="#00efff"/><stop offset="0.6562" stop-color="#00dfff"/><stop offset="0.6719" stop-color="#00cfff"/><stop offset="0.6875" stop-color="#00bfff"/><stop offset="0.7031" stop-color="#00afff"/><stop offset="0.7188" stop-color="#009fff"/><stop offset="0.7344" stop-color="#008fff"/><stop offset="0.7500" stop-color="#0080ff"/><stop offset="0.7656" stop-color="#0070ff"/><stop offset="0.7812" stop-color="#0060ff"/><stop offset="0.7969" stop-color="#0050ff"/><stop offset="0.8125" stop-color="#0040ff"/><stop offset="0.8281" stop-color="#0030ff"/><stop offset="0.8438" stop-color="#0020ff"/><stop offset="0.8594" stop-color="#0010ff"/><stop offset="0.8750" stop-color="#0000ff"/><stop offset="0.8906" stop-color="#0000ef"/><stop offset="0.9062" stop-color="#0000df"/><stop offset="0.9219" stop-color="#0000cf"/><stop offset="0.9375" stop-color="#0000bf"/><stop offset="0.9531" stop-color="#0000af"/><stop offset="0.9688" stop-color="#00009f"/><stop offset="0.9844" stop-color="#00008f"/><stop offset="1.0000" stop-color="#000080"/></linearGradient><linearGradient id="gCE" x1="0" y1="0" x2="0" y2="1"><stop offset="0" stop-color="#f01414"/><stop offset="0.5" stop-color="#ffffff"/><stop offset="1" stop-color="#1414f0"/></linearGradient><linearGradient id="gCH" x1="0" y1="0" x2="1" y2="0"><stop offset="0" stop-color="#0a0aff"/><stop offset="0.5" stop-color="#ffffff"/><stop offset="1" stop-color="#f01414"/></linearGradient><clipPath id="clipM"><rect x="36" y="27" width="146" height="179"/></clipPath></defs>
<rect x="237" y="6" width="366" height="157" fill="url(#gAL)"/>
<rect x="237" y="6" width="366" height="157" fill="url(#gAM)" mask="url(#mk1)"/>
<rect x="237" y="6" width="366" height="157" fill="url(#gAR)" mask="url(#mk2)"/>
<rect x="237" y="191" width="366" height="131" fill="#f4f4fd"/>
<g clip-path="url(#clipD)">
<rect x="237" y="241.98" width="22" height="52.80" fill="url(#gDR)"/>
<rect x="259" y="215.58" width="23" height="52.80" fill="url(#gDR)"/>
<rect x="282" y="241.98" width="23" height="52.80" fill="url(#gDB)"/>
<rect x="305" y="268.38" width="23" height="52.80" fill="url(#gDR)"/>
<rect x="328" y="241.98" width="23" height="52.80" fill="url(#gDB)"/>
<rect x="351" y="215.58" width="23" height="52.80" fill="url(#gDB)"/>
<rect x="374" y="241.98" width="23" height="52.80" fill="url(#gDR)"/>
<rect x="397" y="268.38" width="23" height="52.80" fill="url(#gDB)"/>
<rect x="420" y="241.98" width="23" height="52.80" fill="url(#gDR)"/>
<rect x="443" y="215.58" width="23" height="52.80" fill="url(#gDR)"/>
<rect x="466" y="241.98" width="23" height="52.80" fill="url(#gDB)"/>
<rect x="489" y="268.38" width="23" height="52.80" fill="url(#gDB)"/>
<rect x="512" y="241.98" width="23" height="52.80" fill="url(#gDR)"/>
<rect x="535" y="215.58" width="23" height="52.80" fill="url(#gDR)"/>
<rect x="558" y="241.98" width="23" height="52.80" fill="url(#gDB)"/>
<rect x="581" y="268.38" width="22" height="52.80" fill="url(#gDR)"/>
<polyline points="247.5,270.7 270.5,244.3 293.5,270.7 316.5,297.1 339.5,270.7 362.5,244.3 385.5,270.7 408.5,297.1 431.5,270.7 454.5,244.3 477.5,270.7 500.5,297.1 523.5,270.7 546.5,244.3 569.5,270.7 592.5,297.1" fill="none" stroke="#fff" stroke-width="2" stroke-dasharray="6.6,7.6"/>
<polyline points="247.5,228.2 270.5,228.2 293.5,285.9 316.5,228.2 339.5,285.9 362.5,285.9 385.5,228.2 408.5,285.9 431.5,228.2 454.5,228.2 477.5,285.9 500.5,285.9 523.5,228.2 546.5,228.2 569.5,285.9 592.5,228.2" fill="none" stroke="#000" stroke-width="2" stroke-dasharray="7.2,7"/>
</g>
<rect x="237" y="350" width="366" height="131" fill="#f4f4fd"/>
<g clip-path="url(#clipE)">
<rect x="236" y="349" width="23" height="133" fill="url(#gE0)"/>
<rect x="259" y="349" width="23" height="133" fill="url(#gE1)"/>
<rect x="282" y="349" width="23" height="133" fill="url(#gE2)"/>
<rect x="305" y="349" width="23" height="133" fill="url(#gE3)"/>
<rect x="328" y="349" width="23" height="133" fill="url(#gE4)"/>
<rect x="351" y="349" width="23" height="133" fill="url(#gE5)"/>
<rect x="374" y="349" width="23" height="133" fill="url(#gE6)"/>
<rect x="397" y="349" width="23" height="133" fill="url(#gE7)"/>
<rect x="420" y="349" width="23" height="133" fill="url(#gE8)"/>
<rect x="443" y="349" width="23" height="133" fill="url(#gE9)"/>
<rect x="466" y="349" width="23" height="133" fill="url(#gE10)"/>
<rect x="489" y="349" width="23" height="133" fill="url(#gE11)"/>
<rect x="512" y="349" width="23" height="133" fill="url(#gE12)"/>
<rect x="535" y="349" width="23" height="133" fill="url(#gE13)"/>
<rect x="558" y="349" width="23" height="133" fill="url(#gE14)"/>
<rect x="581" y="349" width="23" height="133" fill="url(#gE15)"/>
<polyline points="247.5,430.0 270.5,405.5 293.5,428.5 316.5,432.5 339.5,424.0 362.5,413.5 385.5,434.5 408.5,441.0 431.5,434.0 454.5,407.5 477.5,434.0 500.5,443.0 523.5,437.5 546.5,406.0 569.5,429.0 592.5,435.5" fill="none" stroke="#fff" stroke-width="2" stroke-dasharray="6.6,7.6"/>
<polyline points="247.5,405.0 270.5,405.0 293.5,428.5 316.5,414.5 339.5,430.5 362.5,426.0 385.5,396.0 408.5,424.0 431.5,396.0 454.5,401.0 477.5,431.0 500.5,426.0 523.5,399.5 546.5,404.0 569.5,429.0 592.5,404.0" fill="none" stroke="#000" stroke-width="2" stroke-dasharray="7.2,7"/>
</g>
<rect x="237" y="163" width="366" height="1" fill="#e4e4e6"/>
<rect x="236.5" y="5.5" width="367.0" height="159.0" fill="none" stroke="#555555" stroke-width="1"/>
<rect x="236.5" y="190.5" width="367.0" height="132.0" fill="none" stroke="#555555" stroke-width="1"/>
<rect x="236.5" y="349.5" width="367.0" height="132.0" fill="none" stroke="#555555" stroke-width="1"/>
<line x1="282.5" y1="163.0" x2="282.5" y2="159.5" stroke="#2a2a2a" stroke-width="1"/>
<line x1="282.5" y1="5.5" x2="282.5" y2="9.0" stroke="#2a2a2a" stroke-width="1"/>
<line x1="282.5" y1="322.0" x2="282.5" y2="318.5" stroke="#2a2a2a" stroke-width="1"/>
<line x1="282.5" y1="190.5" x2="282.5" y2="194.0" stroke="#2a2a2a" stroke-width="1"/>
<line x1="282.5" y1="481.0" x2="282.5" y2="477.5" stroke="#2a2a2a" stroke-width="1"/>
<line x1="282.5" y1="349.5" x2="282.5" y2="353.0" stroke="#2a2a2a" stroke-width="1"/>
<line x1="374.5" y1="163.0" x2="374.5" y2="159.5" stroke="#2a2a2a" stroke-width="1"/>
<line x1="374.5" y1="5.5" x2="374.5" y2="9.0" stroke="#2a2a2a" stroke-width="1"/>
<line x1="374.5" y1="322.0" x2="374.5" y2="318.5" stroke="#2a2a2a" stroke-width="1"/>
<line x1="374.5" y1="190.5" x2="374.5" y2="194.0" stroke="#2a2a2a" stroke-width="1"/>
<line x1="374.5" y1="481.0" x2="374.5" y2="477.5" stroke="#2a2a2a" stroke-width="1"/>
<line x1="374.5" y1="349.5" x2="374.5" y2="353.0" stroke="#2a2a2a" stroke-width="1"/>
<line x1="466.5" y1="163.0" x2="466.5" y2="159.5" stroke="#2a2a2a" stroke-width="1"/>
<line x1="466.5" y1="5.5" x2="466.5" y2="9.0" stroke="#2a2a2a" stroke-width="1"/>
<line x1="466.5" y1="322.0" x2="466.5" y2="318.5" stroke="#2a2a2a" stroke-width="1"/>
<line x1="466.5" y1="190.5" x2="466.5" y2="194.0" stroke="#2a2a2a" stroke-width="1"/>
<line x1="466.5" y1="481.0" x2="466.5" y2="477.5" stroke="#2a2a2a" stroke-width="1"/>
<line x1="466.5" y1="349.5" x2="466.5" y2="353.0" stroke="#2a2a2a" stroke-width="1"/>
<line x1="558.5" y1="163.0" x2="558.5" y2="159.5" stroke="#2a2a2a" stroke-width="1"/>
<line x1="558.5" y1="5.5" x2="558.5" y2="9.0" stroke="#2a2a2a" stroke-width="1"/>
<line x1="558.5" y1="322.0" x2="558.5" y2="318.5" stroke="#2a2a2a" stroke-width="1"/>
<line x1="558.5" y1="190.5" x2="558.5" y2="194.0" stroke="#2a2a2a" stroke-width="1"/>
<line x1="558.5" y1="481.0" x2="558.5" y2="477.5" stroke="#2a2a2a" stroke-width="1"/>
<line x1="558.5" y1="349.5" x2="558.5" y2="353.0" stroke="#2a2a2a" stroke-width="1"/>
<line x1="236.5" y1="132.5" x2="240.0" y2="132.5" stroke="#2a2a2a" stroke-width="1"/>
<line x1="603.5" y1="132.5" x2="600.0" y2="132.5" stroke="#2a2a2a" stroke-width="1"/>
<line x1="236.5" y1="296.5" x2="240.0" y2="296.5" stroke="#2a2a2a" stroke-width="1"/>
<line x1="236.5" y1="455.5" x2="240.0" y2="455.5" stroke="#2a2a2a" stroke-width="1"/>
<line x1="236.5" y1="69.5" x2="240.0" y2="69.5" stroke="#2a2a2a" stroke-width="1"/>
<line x1="603.5" y1="69.5" x2="600.0" y2="69.5" stroke="#2a2a2a" stroke-width="1"/>
<line x1="236.5" y1="243.5" x2="240.0" y2="243.5" stroke="#2a2a2a" stroke-width="1"/>
<line x1="236.5" y1="402.5" x2="240.0" y2="402.5" stroke="#2a2a2a" stroke-width="1"/>
<line x1="236.5" y1="6.5" x2="240.0" y2="6.5" stroke="#2a2a2a" stroke-width="1"/>
<line x1="603.5" y1="6.5" x2="600.0" y2="6.5" stroke="#2a2a2a" stroke-width="1"/>
<line x1="236.5" y1="190.5" x2="240.0" y2="190.5" stroke="#2a2a2a" stroke-width="1"/>
<line x1="236.5" y1="350.5" x2="240.0" y2="350.5" stroke="#2a2a2a" stroke-width="1"/>
<line x1="603.5" y1="196.5" x2="600.0" y2="196.5" stroke="#2a2a2a" stroke-width="1"/>
<line x1="603.5" y1="356.5" x2="600.0" y2="356.5" stroke="#2a2a2a" stroke-width="1"/>
<line x1="603.5" y1="226.5" x2="600.0" y2="226.5" stroke="#2a2a2a" stroke-width="1"/>
<line x1="603.5" y1="385.5" x2="600.0" y2="385.5" stroke="#2a2a2a" stroke-width="1"/>
<line x1="603.5" y1="256.5" x2="600.0" y2="256.5" stroke="#2a2a2a" stroke-width="1"/>
<line x1="603.5" y1="415.5" x2="600.0" y2="415.5" stroke="#2a2a2a" stroke-width="1"/>
<line x1="603.5" y1="286.5" x2="600.0" y2="286.5" stroke="#2a2a2a" stroke-width="1"/>
<line x1="603.5" y1="445.5" x2="600.0" y2="445.5" stroke="#2a2a2a" stroke-width="1"/>
<line x1="603.5" y1="316.5" x2="600.0" y2="316.5" stroke="#2a2a2a" stroke-width="1"/>
<line x1="603.5" y1="475.5" x2="600.0" y2="475.5" stroke="#2a2a2a" stroke-width="1"/>
<text x="231.0" y="10.5" font-size="14" text-anchor="end" fill="#1c1c1c" >600</text>
<text x="231.0" y="73.7" font-size="14" text-anchor="end" fill="#1c1c1c" >400</text>
<text x="231.0" y="136.9" font-size="14" text-anchor="end" fill="#1c1c1c" >200</text>
<text x="231.0" y="195.5" font-size="14" text-anchor="end" fill="#1c1c1c" >600</text>
<text x="231.0" y="248.3" font-size="14" text-anchor="end" fill="#1c1c1c" >400</text>
<text x="231.0" y="301.1" font-size="14" text-anchor="end" fill="#1c1c1c" >200</text>
<text x="231.0" y="354.5" font-size="14" text-anchor="end" fill="#1c1c1c" >600</text>
<text x="231.0" y="407.3" font-size="14" text-anchor="end" fill="#1c1c1c" >400</text>
<text x="231.0" y="460.1" font-size="14" text-anchor="end" fill="#1c1c1c" >200</text>
<text x="0.0" y="0.0" font-size="14" text-anchor="middle" fill="#1c1c1c" transform="translate(202,86.0) rotate(-90)">Height (km)</text>
<text x="0.0" y="0.0" font-size="14" text-anchor="middle" fill="#1c1c1c" transform="translate(202,256.9) rotate(-90)">Height (km)</text>
<text x="0.0" y="0.0" font-size="14" text-anchor="middle" fill="#1c1c1c" transform="translate(202,415.9) rotate(-90)">Height (km)</text>
<text x="608.5" y="201.5" font-size="14" text-anchor="start" fill="#1c1c1c" >1</text>
<text x="608.5" y="231.4" font-size="14" text-anchor="start" fill="#1c1c1c" >0.5</text>
<text x="608.5" y="261.3" font-size="14" text-anchor="start" fill="#1c1c1c" >0</text>
<text x="608.5" y="291.2" font-size="14" text-anchor="start" fill="#1c1c1c" >-0.5</text>
<text x="608.5" y="321.1" font-size="14" text-anchor="start" fill="#1c1c1c" >-1</text>
<text x="608.5" y="360.5" font-size="14" text-anchor="start" fill="#1c1c1c" >1</text>
<text x="608.5" y="390.4" font-size="14" text-anchor="start" fill="#1c1c1c" >0.5</text>
<text x="608.5" y="420.3" font-size="14" text-anchor="start" fill="#1c1c1c" >0</text>
<text x="608.5" y="450.2" font-size="14" text-anchor="start" fill="#1c1c1c" >-0.5</text>
<text x="608.5" y="480.1" font-size="14" text-anchor="start" fill="#1c1c1c" >-1</text>
<text x="0.0" y="0.0" font-size="14" text-anchor="middle" fill="#1c1c1c" transform="translate(649,256) rotate(-90)">TECP (TECU)</text>
<text x="281.7" y="187.0" font-size="14" fill="#1c1c1c" text-anchor="end">36</text>
<text x="282.9" y="174.7" font-size="6.2" fill="#1c1c1c">o</text>
<text x="287.0" y="187.0" font-size="14" fill="#1c1c1c">N</text>
<text x="281.7" y="345.2" font-size="14" fill="#1c1c1c" text-anchor="end">36</text>
<text x="282.9" y="332.9" font-size="6.2" fill="#1c1c1c">o</text>
<text x="287.0" y="345.2" font-size="14" fill="#1c1c1c">N</text>
<text x="281.7" y="503.8" font-size="14" fill="#1c1c1c" text-anchor="end">36</text>
<text x="282.9" y="491.5" font-size="6.2" fill="#1c1c1c">o</text>
<text x="287.0" y="503.8" font-size="14" fill="#1c1c1c">N</text>
<text x="373.7" y="187.0" font-size="14" fill="#1c1c1c" text-anchor="end">37</text>
<text x="374.9" y="174.7" font-size="6.2" fill="#1c1c1c">o</text>
<text x="379.0" y="187.0" font-size="14" fill="#1c1c1c">N</text>
<text x="373.7" y="345.2" font-size="14" fill="#1c1c1c" text-anchor="end">37</text>
<text x="374.9" y="332.9" font-size="6.2" fill="#1c1c1c">o</text>
<text x="379.0" y="345.2" font-size="14" fill="#1c1c1c">N</text>
<text x="373.7" y="503.8" font-size="14" fill="#1c1c1c" text-anchor="end">37</text>
<text x="374.9" y="491.5" font-size="6.2" fill="#1c1c1c">o</text>
<text x="379.0" y="503.8" font-size="14" fill="#1c1c1c">N</text>
<text x="465.7" y="187.0" font-size="14" fill="#1c1c1c" text-anchor="end">38</text>
<text x="466.9" y="174.7" font-size="6.2" fill="#1c1c1c">o</text>
<text x="471.0" y="187.0" font-size="14" fill="#1c1c1c">N</text>
<text x="465.7" y="345.2" font-size="14" fill="#1c1c1c" text-anchor="end">38</text>
<text x="466.9" y="332.9" font-size="6.2" fill="#1c1c1c">o</text>
<text x="471.0" y="345.2" font-size="14" fill="#1c1c1c">N</text>
<text x="465.7" y="503.8" font-size="14" fill="#1c1c1c" text-anchor="end">38</text>
<text x="466.9" y="491.5" font-size="6.2" fill="#1c1c1c">o</text>
<text x="471.0" y="503.8" font-size="14" fill="#1c1c1c">N</text>
<text x="557.7" y="187.0" font-size="14" fill="#1c1c1c" text-anchor="end">39</text>
<text x="558.9" y="174.7" font-size="6.2" fill="#1c1c1c">o</text>
<text x="563.0" y="187.0" font-size="14" fill="#1c1c1c">N</text>
<text x="557.7" y="345.2" font-size="14" fill="#1c1c1c" text-anchor="end">39</text>
<text x="558.9" y="332.9" font-size="6.2" fill="#1c1c1c">o</text>
<text x="563.0" y="345.2" font-size="14" fill="#1c1c1c">N</text>
<text x="557.7" y="503.8" font-size="14" fill="#1c1c1c" text-anchor="end">39</text>
<text x="558.9" y="491.5" font-size="6.2" fill="#1c1c1c">o</text>
<text x="563.0" y="503.8" font-size="14" fill="#1c1c1c">N</text>
<text x="419.0" y="520.5" font-size="14" text-anchor="middle" fill="#1c1c1c" >Latitude</text>
<text x="245.0" y="26.5" font-size="14" text-anchor="start" fill="#eef0ff" class="w">(a) Background</text>
<text x="245.0" y="209.8" font-size="14" text-anchor="start" fill="#1c1c1c" >(d) Input (NE-SW)</text>
<text x="245.0" y="368.2" font-size="14" text-anchor="start" fill="#1c1c1c" >(e) Output (NE-SW)</text>
<rect x="634.5" y="79.5" width="5" height="79" fill="url(#gCA)" stroke="#555555" stroke-width="1"/>
<line x1="637.5" y1="119.5" x2="639.5" y2="119.5" stroke="#2a2a2a" stroke-width="1"/>
<text x="645.0" y="84.5" font-size="14" text-anchor="start" fill="#1c1c1c" >8</text>
<text x="645.0" y="123.5" font-size="14" text-anchor="start" fill="#1c1c1c" >4</text>
<text x="645.0" y="163.5" font-size="14" text-anchor="start" fill="#1c1c1c" >0</text>
<text font-size="14" fill="#1c1c1c" text-anchor="middle" transform="translate(674,118.5) rotate(-90)">10<tspan font-size="11" dy="-8">11</tspan><tspan dy="8">m</tspan><tspan font-size="11" dy="-8">-3</tspan></text>
<rect x="641.5" y="396.5" width="5" height="79" fill="url(#gCE)" stroke="#555555" stroke-width="1"/>
<line x1="644.5" y1="436.5" x2="646.5" y2="436.5" stroke="#2a2a2a" stroke-width="1"/>
<text x="651.5" y="401.5" font-size="14" text-anchor="start" fill="#1c1c1c" >3</text>
<text x="651.5" y="441.0" font-size="14" text-anchor="start" fill="#1c1c1c" >0</text>
<text x="651.0" y="480.5" font-size="14" text-anchor="start" fill="#1c1c1c" >-3</text>
<text font-size="14" fill="#1c1c1c" text-anchor="middle" transform="translate(684.5,435.5) rotate(-90)">10<tspan font-size="11" dy="-8">10</tspan><tspan dy="8">m</tspan><tspan font-size="11" dy="-8">-3</tspan></text>
<rect x="36" y="27" width="146" height="179" fill="#fff"/>
<rect x="37.5" y="28.0" width="142" height="176.5" fill="#f4f4fd"/>
<g transform="translate(0,0)" clip-path="url(#clipM)">
<path d="M36.5,148.6 L38.4,149.4 L39.9,151.6 L42.0,154.4 L45.6,155.1 L47.2,154.0 L50.6,152.3 L54.4,150.4 L53.6,146.1 L54.4,141.8 L57.2,137.5 L61.6,133.9 L65.1,129.6 L67.3,126.0 L68.0,123.1 L66.6,119.5 L67.3,116.6 L69.5,114.5 L73.0,113.3 L75.9,112.3 L78.8,112.8 L78.1,114.5 L76.6,115.9 L74.5,116.6 L72.3,118.8 L70.9,121.0 L71.6,123.1 L72.3,126.7 L74.5,128.1 L78.8,127.4 L80.2,124.5 L83.1,123.1 L88.9,121.0 L94.6,119.1 L97.5,118.1 L101.8,114.5 L104.7,110.2 L106.1,105.9 L110.4,103.0 L115.1,100.4 L117.2,95.0 L118.6,93.5 L121.5,86.3 L125.1,79.2 L127.3,73.4 L128.0,67.7 L126.6,63.4 L123.7,61.2 L121.5,59.8 L123.0,58.3 L125.1,56.9 L126.6,51.9 L125.1,47.6 L125.8,44.0 L128.7,42.5 L131.6,40.4 L132.3,36.1 L132.6,33.0 L134.0,32.0 L135.9,32.6 L137.0,33.3 L138.0,34.6 L139.5,39.6 L140.6,41.0 L141.6,40.4 L143.8,38.2 L146.7,37.5 L148.1,40.4 L149.6,39.6 L151.0,38.9 L151.7,33.2 L149.5,32.5 L146.7,33.2 L144.5,33.9 L143.1,32.5 L142.4,29.6 L143.0,27.8 L144.2,27.3 L146.7,28.2 L149.5,28.9 L152.4,28.2 L154.2,28.5 L154.0,31.7 L153.9,38.9 L154.6,44.7 L156.5,47.5 L158.2,50.4 L161.0,54.7 L162.5,60.5 L163.2,64.8 L164.6,69.1 L163.9,73.4 L162.5,77.7 L161.0,80.6 L159.6,84.9 L156.7,89.2 L155.3,93.5 L154.6,95.8 L153.9,96.4 L151.0,95.0 L148.1,93.8 L146.0,95.5 L145.2,101.0 L146.0,105.0 L146.7,109.4 L146.3,115.0 L146.0,120.9 L143.8,124.5 L140.9,128.0 L138.8,133.8 L137.8,138.1 L138.8,143.9 L140.9,147.4 L143.1,149.6 L140.9,151.6 L138.1,152.9 L135.4,156.1 L134.1,160.3 L132.6,162.9 L128.9,164.6 L126.2,166.7 L124.3,167.8 L123.4,165.6 L123.9,162.5 L123.8,159.3 L125.2,157.1 L128.0,154.0 L128.9,152.5 L126.7,151.2 L124.3,151.8 L122.8,152.9 L121.9,155.0 L120.6,156.5 L121.0,159.3 L120.1,162.7 L119.3,160.3 L118.8,159.3 L116.9,159.1 L114.2,159.3 L111.4,160.3 L110.5,163.1 L110.9,166.3 L109.6,170.3 L107.7,172.7 L105.9,174.2 L104.2,171.6 L104.2,167.8 L105.3,164.6 L105.9,163.5 L102.8,162.9 L99.8,165.2 L98.0,166.7 L96.1,168.8 L94.3,173.7 L89.3,172.9 L85.3,172.9 L81.0,172.9 L77.0,173.7 L72.2,174.6 L73.7,173.1 L76.8,172.0 L76.4,169.9 L72.7,169.9 L71.3,171.6 L71.5,172.5 L69.4,171.0 L68.7,167.8 L69.1,164.6 L66.3,165.0 L65.0,166.3 L64.1,169.3 L63.0,171.6 L64.5,174.8 L66.7,175.9 L69.1,176.7 L70.0,180.5 L67.2,181.6 L62.6,182.7 L58.9,184.4 L57.1,185.9 L55.2,189.5 L53.0,192.9 L52.1,194.6 L49.2,197.1 L46.0,196.3 L42.7,195.4 L41.4,193.7 L38.7,190.7 L37.4,188.6 L36.8,185.2 L37.7,182.7 L35.9,181.0 L38.3,179.5 L40.5,178.0 L42.7,175.2 L42.9,173.1 L40.5,172.0 L38.7,172.5 L35.9,173.1 L33.1,173.3 M98.9,95.1 L100.3,97.2 L98.2,100.1 L101.1,101.6 L98.9,104.4 L95.3,106.6 L94.6,103.0 L96.8,100.8 L95.3,98.7 L97.5,96.5 L98.9,95.1 M127.1,25.3 L128.6,28.5 L130.8,29.5 L132.6,28.5 L134.4,25.3 M115.1,170.3 L116.4,171.0 L116.6,172.5 L115.5,172.7 L114.9,171.6 L115.1,170.3" fill="none" stroke="#c2c2c6" stroke-width="0.8" stroke-linejoin="round"/>
<circle cx="113.8" cy="175.9" r="0.7" fill="#c4c4c8"/>
<circle cx="113.4" cy="179.1" r="0.7" fill="#c4c4c8"/>
<circle cx="112.3" cy="180.5" r="0.7" fill="#c4c4c8"/>
<circle cx="111.2" cy="182.5" r="0.7" fill="#c4c4c8"/>
<circle cx="118.4" cy="185.2" r="0.7" fill="#c4c4c8"/>
<circle cx="119.7" cy="189.3" r="0.7" fill="#c4c4c8"/>
<circle cx="113.3" cy="91.8" r="0.7" fill="#c4c4c8"/>
<circle cx="118.8" cy="76.5" r="0.7" fill="#c4c4c8"/>
<circle cx="70.0" cy="105.0" r="0.7" fill="#c4c4c8"/>
<rect x="78.73" y="152.36" width="4.61" height="5.32" fill="#f01e1e"/>
<rect x="83.33" y="147.04" width="4.60" height="5.32" fill="#f55050"/>
<rect x="87.94" y="141.72" width="4.61" height="5.32" fill="#1414f0"/>
<rect x="97.15" y="131.09" width="4.60" height="5.32" fill="#0a0aeb"/>
<rect x="101.75" y="125.77" width="4.61" height="5.32" fill="#3c3cf5"/>
<rect x="106.36" y="120.45" width="4.61" height="5.32" fill="#eb2828"/>
<rect x="115.57" y="109.82" width="4.61" height="5.32" fill="#f02828"/>
<rect x="120.17" y="104.50" width="4.60" height="5.32" fill="#f55050"/>
<rect x="124.78" y="99.18" width="4.60" height="5.32" fill="#1414f0"/>
<rect x="133.99" y="88.55" width="4.60" height="5.32" fill="#f02828"/>
<rect x="138.59" y="83.23" width="4.61" height="5.32" fill="#f55050"/>
<rect x="143.20" y="77.91" width="4.60" height="5.32" fill="#1e1ef0"/>
<rect x="152.41" y="67.28" width="4.61" height="5.32" fill="#f01e1e"/>
</g>
<rect x="35.5" y="26.5" width="147.0" height="180.0" fill="none" stroke="#555555" stroke-width="1"/>
<line x1="35.5" y1="59.5" x2="38.5" y2="59.5" stroke="#555555" stroke-width="1"/>
<line x1="182.5" y1="59.5" x2="179.5" y2="59.5" stroke="#555555" stroke-width="1"/>
<text x="31.6" y="64.3" font-size="14" text-anchor="end" fill="#1c1c1c" >40°N</text>
<line x1="35.5" y1="123.5" x2="38.5" y2="123.5" stroke="#555555" stroke-width="1"/>
<line x1="182.5" y1="123.5" x2="179.5" y2="123.5" stroke="#555555" stroke-width="1"/>
<text x="31.6" y="128.1" font-size="14" text-anchor="end" fill="#1c1c1c" >37°N</text>
<line x1="35.5" y1="187.5" x2="38.5" y2="187.5" stroke="#555555" stroke-width="1"/>
<line x1="182.5" y1="187.5" x2="179.5" y2="187.5" stroke="#555555" stroke-width="1"/>
<text x="31.6" y="191.9" font-size="14" text-anchor="end" fill="#1c1c1c" >34°N</text>
<line x1="53.5" y1="206.5" x2="53.5" y2="203.5" stroke="#555555" stroke-width="1"/>
<line x1="53.5" y1="26.5" x2="53.5" y2="29.5" stroke="#555555" stroke-width="1"/>
<text x="53.4" y="219.5" font-size="14" text-anchor="middle" fill="#1c1c1c" >136°E</text>
<line x1="109.5" y1="206.5" x2="109.5" y2="203.5" stroke="#555555" stroke-width="1"/>
<line x1="109.5" y1="26.5" x2="109.5" y2="29.5" stroke="#555555" stroke-width="1"/>
<text x="108.7" y="219.5" font-size="14" text-anchor="middle" fill="#1c1c1c" >139°E</text>
<line x1="164.5" y1="206.5" x2="164.5" y2="203.5" stroke="#555555" stroke-width="1"/>
<line x1="164.5" y1="26.5" x2="164.5" y2="29.5" stroke="#555555" stroke-width="1"/>
<text x="163.9" y="219.5" font-size="14" text-anchor="middle" fill="#1c1c1c" >142°E</text>
<text x="45.0" y="53.3" font-size="14" text-anchor="start" fill="#1c1c1c" >(b) Input</text>
<text x="45.0" y="74.5" font-size="14" text-anchor="start" fill="#1c1c1c" >300 km</text>
<rect x="116.3" y="153.2" width="55.7" height="4.6" fill="url(#gCH)" stroke="#666" stroke-width="0.8"/>
<text x="116.0" y="174.5" font-size="12" text-anchor="middle" fill="#1c1c1c" >-3</text>
<text x="144.0" y="174.5" font-size="12" text-anchor="middle" fill="#1c1c1c" >0</text>
<text x="172.0" y="174.5" font-size="12" text-anchor="middle" fill="#1c1c1c" >3</text>
<text x="144.3" y="194.0" font-size="12" fill="#1c1c1c" text-anchor="middle">10<tspan font-size="9.6" dy="-6.4">10</tspan><tspan dy="6.4">m</tspan><tspan font-size="9.6" dy="-6.4">-3</tspan></text>
<line x1="144.5" y1="157.2" x2="144.5" y2="155.5" stroke="#2a2a2a" stroke-width="1"/>
<rect x="36" y="265" width="146" height="179" fill="#fff"/>
<rect x="37.5" y="266.0" width="142" height="176.5" fill="#f4f4fd"/>
<g transform="translate(0,238)" clip-path="url(#clipM)">
<path d="M36.5,148.6 L38.4,149.4 L39.9,151.6 L42.0,154.4 L45.6,155.1 L47.2,154.0 L50.6,152.3 L54.4,150.4 L53.6,146.1 L54.4,141.8 L57.2,137.5 L61.6,133.9 L65.1,129.6 L67.3,126.0 L68.0,123.1 L66.6,119.5 L67.3,116.6 L69.5,114.5 L73.0,113.3 L75.9,112.3 L78.8,112.8 L78.1,114.5 L76.6,115.9 L74.5,116.6 L72.3,118.8 L70.9,121.0 L71.6,123.1 L72.3,126.7 L74.5,128.1 L78.8,127.4 L80.2,124.5 L83.1,123.1 L88.9,121.0 L94.6,119.1 L97.5,118.1 L101.8,114.5 L104.7,110.2 L106.1,105.9 L110.4,103.0 L115.1,100.4 L117.2,95.0 L118.6,93.5 L121.5,86.3 L125.1,79.2 L127.3,73.4 L128.0,67.7 L126.6,63.4 L123.7,61.2 L121.5,59.8 L123.0,58.3 L125.1,56.9 L126.6,51.9 L125.1,47.6 L125.8,44.0 L128.7,42.5 L131.6,40.4 L132.3,36.1 L132.6,33.0 L134.0,32.0 L135.9,32.6 L137.0,33.3 L138.0,34.6 L139.5,39.6 L140.6,41.0 L141.6,40.4 L143.8,38.2 L146.7,37.5 L148.1,40.4 L149.6,39.6 L151.0,38.9 L151.7,33.2 L149.5,32.5 L146.7,33.2 L144.5,33.9 L143.1,32.5 L142.4,29.6 L143.0,27.8 L144.2,27.3 L146.7,28.2 L149.5,28.9 L152.4,28.2 L154.2,28.5 L154.0,31.7 L153.9,38.9 L154.6,44.7 L156.5,47.5 L158.2,50.4 L161.0,54.7 L162.5,60.5 L163.2,64.8 L164.6,69.1 L163.9,73.4 L162.5,77.7 L161.0,80.6 L159.6,84.9 L156.7,89.2 L155.3,93.5 L154.6,95.8 L153.9,96.4 L151.0,95.0 L148.1,93.8 L146.0,95.5 L145.2,101.0 L146.0,105.0 L146.7,109.4 L146.3,115.0 L146.0,120.9 L143.8,124.5 L140.9,128.0 L138.8,133.8 L137.8,138.1 L138.8,143.9 L140.9,147.4 L143.1,149.6 L140.9,151.6 L138.1,152.9 L135.4,156.1 L134.1,160.3 L132.6,162.9 L128.9,164.6 L126.2,166.7 L124.3,167.8 L123.4,165.6 L123.9,162.5 L123.8,159.3 L125.2,157.1 L128.0,154.0 L128.9,152.5 L126.7,151.2 L124.3,151.8 L122.8,152.9 L121.9,155.0 L120.6,156.5 L121.0,159.3 L120.1,162.7 L119.3,160.3 L118.8,159.3 L116.9,159.1 L114.2,159.3 L111.4,160.3 L110.5,163.1 L110.9,166.3 L109.6,170.3 L107.7,172.7 L105.9,174.2 L104.2,171.6 L104.2,167.8 L105.3,164.6 L105.9,163.5 L102.8,162.9 L99.8,165.2 L98.0,166.7 L96.1,168.8 L94.3,173.7 L89.3,172.9 L85.3,172.9 L81.0,172.9 L77.0,173.7 L72.2,174.6 L73.7,173.1 L76.8,172.0 L76.4,169.9 L72.7,169.9 L71.3,171.6 L71.5,172.5 L69.4,171.0 L68.7,167.8 L69.1,164.6 L66.3,165.0 L65.0,166.3 L64.1,169.3 L63.0,171.6 L64.5,174.8 L66.7,175.9 L69.1,176.7 L70.0,180.5 L67.2,181.6 L62.6,182.7 L58.9,184.4 L57.1,185.9 L55.2,189.5 L53.0,192.9 L52.1,194.6 L49.2,197.1 L46.0,196.3 L42.7,195.4 L41.4,193.7 L38.7,190.7 L37.4,188.6 L36.8,185.2 L37.7,182.7 L35.9,181.0 L38.3,179.5 L40.5,178.0 L42.7,175.2 L42.9,173.1 L40.5,172.0 L38.7,172.5 L35.9,173.1 L33.1,173.3 M98.9,95.1 L100.3,97.2 L98.2,100.1 L101.1,101.6 L98.9,104.4 L95.3,106.6 L94.6,103.0 L96.8,100.8 L95.3,98.7 L97.5,96.5 L98.9,95.1 M127.1,25.3 L128.6,28.5 L130.8,29.5 L132.6,28.5 L134.4,25.3 M115.1,170.3 L116.4,171.0 L116.6,172.5 L115.5,172.7 L114.9,171.6 L115.1,170.3" fill="none" stroke="#c2c2c6" stroke-width="0.8" stroke-linejoin="round"/>
<circle cx="113.8" cy="175.9" r="0.7" fill="#c4c4c8"/>
<circle cx="113.4" cy="179.1" r="0.7" fill="#c4c4c8"/>
<circle cx="112.3" cy="180.5" r="0.7" fill="#c4c4c8"/>
<circle cx="111.2" cy="182.5" r="0.7" fill="#c4c4c8"/>
<circle cx="118.4" cy="185.2" r="0.7" fill="#c4c4c8"/>
<circle cx="119.7" cy="189.3" r="0.7" fill="#c4c4c8"/>
<circle cx="113.3" cy="91.8" r="0.7" fill="#c4c4c8"/>
<circle cx="118.8" cy="76.5" r="0.7" fill="#c4c4c8"/>
<circle cx="70.0" cy="105.0" r="0.7" fill="#c4c4c8"/>
<rect x="74.12" y="152.36" width="4.60" height="5.32" fill="#fafafc"/>
<rect x="78.73" y="152.36" width="4.61" height="5.32" fill="#fcb9b9"/>
<rect x="83.33" y="152.36" width="4.60" height="5.32" fill="#fceeeb"/>
<rect x="74.12" y="147.04" width="4.60" height="5.32" fill="#e8e8fa"/>
<rect x="78.73" y="147.04" width="4.61" height="5.32" fill="#fcbebe"/>
<rect x="83.33" y="147.04" width="4.60" height="5.32" fill="#fa9696"/>
<rect x="87.94" y="147.04" width="4.61" height="5.32" fill="#f2f2fc"/>
<rect x="92.54" y="147.04" width="4.61" height="5.32" fill="#fafafc"/>
<rect x="74.12" y="141.72" width="4.60" height="5.32" fill="#fafafc"/>
<rect x="78.73" y="141.72" width="4.61" height="5.32" fill="#fafafc"/>
<rect x="83.33" y="141.72" width="4.60" height="5.32" fill="#fcfaf5"/>
<rect x="87.94" y="141.72" width="4.61" height="5.32" fill="#5555f0"/>
<rect x="92.54" y="141.72" width="4.61" height="5.32" fill="#fcd7d2"/>
<rect x="97.15" y="141.72" width="4.60" height="5.32" fill="#fcebe6"/>
<rect x="78.73" y="136.40" width="4.61" height="5.32" fill="#fafafc"/>
<rect x="87.94" y="136.40" width="4.61" height="5.32" fill="#d7d7fa"/>
<rect x="92.54" y="136.40" width="4.61" height="5.32" fill="#dcdcfa"/>
<rect x="97.15" y="136.40" width="4.60" height="5.32" fill="#f5f5fc"/>
<rect x="101.75" y="136.40" width="4.61" height="5.32" fill="#ebebfc"/>
<rect x="87.94" y="131.09" width="4.61" height="5.32" fill="#eeeefa"/>
<rect x="92.54" y="131.09" width="4.61" height="5.32" fill="#f0f0fc"/>
<rect x="97.15" y="131.09" width="4.60" height="5.32" fill="#5050f0"/>
<rect x="101.75" y="131.09" width="4.61" height="5.32" fill="#bebefa"/>
<rect x="106.36" y="131.09" width="4.61" height="5.32" fill="#fce1e1"/>
<rect x="87.94" y="125.77" width="4.61" height="5.32" fill="#fce6e1"/>
<rect x="92.54" y="125.77" width="4.61" height="5.32" fill="#fcf0eb"/>
<rect x="97.15" y="125.77" width="4.60" height="5.32" fill="#f5f5fc"/>
<rect x="101.75" y="125.77" width="4.61" height="5.32" fill="#5050f0"/>
<rect x="106.36" y="125.77" width="4.61" height="5.32" fill="#f5f5fc"/>
<rect x="110.96" y="125.77" width="4.60" height="5.32" fill="#ebebfa"/>
<rect x="92.54" y="120.45" width="4.61" height="5.32" fill="#e6e6fa"/>
<rect x="97.15" y="120.45" width="4.60" height="5.32" fill="#d7d7fa"/>
<rect x="101.75" y="120.45" width="4.61" height="5.32" fill="#ebebfc"/>
<rect x="106.36" y="120.45" width="4.61" height="5.32" fill="#f03c3c"/>
<rect x="110.96" y="120.45" width="4.60" height="5.32" fill="#d7d7fa"/>
<rect x="115.57" y="120.45" width="4.61" height="5.32" fill="#eeeefc"/>
<rect x="101.75" y="115.13" width="4.61" height="5.32" fill="#fce1dc"/>
<rect x="106.36" y="115.13" width="4.61" height="5.32" fill="#fce8e4"/>
<rect x="110.96" y="115.13" width="4.60" height="5.32" fill="#fcebe8"/>
<rect x="115.57" y="115.13" width="4.61" height="5.32" fill="#f5f5fc"/>
<rect x="120.17" y="115.13" width="4.60" height="5.32" fill="#f0f0fc"/>
<rect x="106.36" y="109.82" width="4.61" height="5.32" fill="#dcdcfa"/>
<rect x="110.96" y="109.82" width="4.60" height="5.32" fill="#b4b4fa"/>
<rect x="115.57" y="109.82" width="4.61" height="5.32" fill="#f55050"/>
<rect x="120.17" y="109.82" width="4.60" height="5.32" fill="#fcd2d2"/>
<rect x="124.78" y="109.82" width="4.60" height="5.32" fill="#ebebfc"/>
<rect x="101.75" y="104.50" width="4.61" height="5.32" fill="#e1e1fa"/>
<rect x="106.36" y="104.50" width="4.61" height="5.32" fill="#ebebfa"/>
<rect x="115.57" y="104.50" width="4.61" height="5.32" fill="#fcd7d7"/>
<rect x="120.17" y="104.50" width="4.60" height="5.32" fill="#faa0a0"/>
<rect x="124.78" y="104.50" width="4.60" height="5.32" fill="#dcdcfa"/>
<rect x="110.96" y="99.18" width="4.60" height="5.32" fill="#e1e1fa"/>
<rect x="115.57" y="99.18" width="4.61" height="5.32" fill="#d7d7fa"/>
<rect x="120.17" y="99.18" width="4.60" height="5.32" fill="#fce1e1"/>
<rect x="124.78" y="99.18" width="4.60" height="5.32" fill="#3c3cf0"/>
<rect x="129.38" y="99.18" width="4.61" height="5.32" fill="#fcf8f0"/>
<rect x="120.17" y="93.86" width="4.60" height="5.32" fill="#fafafc"/>
<rect x="124.78" y="93.86" width="4.60" height="5.32" fill="#ebebfc"/>
<rect x="133.99" y="93.86" width="4.60" height="5.32" fill="#e8e8fc"/>
<rect x="120.17" y="88.55" width="4.60" height="5.32" fill="#fafafc"/>
<rect x="124.78" y="88.55" width="4.60" height="5.32" fill="#d2d2fa"/>
<rect x="129.38" y="88.55" width="4.61" height="5.32" fill="#c8c8fa"/>
<rect x="133.99" y="88.55" width="4.60" height="5.32" fill="#f57373"/>
<rect x="138.59" y="88.55" width="4.61" height="5.32" fill="#fcb9b9"/>
<rect x="143.20" y="88.55" width="4.60" height="5.32" fill="#ebebfc"/>
<rect x="115.57" y="83.23" width="4.61" height="5.32" fill="#ebebfc"/>
<rect x="120.17" y="83.23" width="4.60" height="5.32" fill="#e4e4fa"/>
<rect x="124.78" y="83.23" width="4.60" height="5.32" fill="#e1e1fa"/>
<rect x="129.38" y="83.23" width="4.61" height="5.32" fill="#ebebfc"/>
<rect x="138.59" y="83.23" width="4.61" height="5.32" fill="#f58282"/>
<rect x="133.99" y="77.91" width="4.60" height="5.32" fill="#f0f0fc"/>
<rect x="143.20" y="77.91" width="4.60" height="5.32" fill="#4646f0"/>
<rect x="147.80" y="77.91" width="4.60" height="5.32" fill="#fcf8f0"/>
<rect x="138.59" y="72.59" width="4.61" height="5.32" fill="#ebebfc"/>
<rect x="143.20" y="72.59" width="4.60" height="5.32" fill="#ebebfc"/>
<rect x="147.80" y="72.59" width="4.60" height="5.32" fill="#dedefa"/>
<rect x="143.20" y="67.28" width="4.60" height="5.32" fill="#fcc8c8"/>
<rect x="147.80" y="67.28" width="4.60" height="5.32" fill="#fce8e4"/>
<rect x="152.41" y="67.28" width="4.61" height="5.32" fill="#f56e6e"/>
<rect x="157.01" y="67.28" width="4.60" height="5.32" fill="#fcbebe"/>
<rect x="138.59" y="61.96" width="4.61" height="5.32" fill="#fcf0ee"/>
<rect x="143.20" y="61.96" width="4.60" height="5.32" fill="#fcebe8"/>
<rect x="147.80" y="61.96" width="4.60" height="5.32" fill="#dedefa"/>
<rect x="152.41" y="61.96" width="4.61" height="5.32" fill="#fceeeb"/>
<rect x="157.01" y="61.96" width="4.60" height="5.32" fill="#fceeeb"/>
<rect x="143.20" y="56.64" width="4.60" height="5.32" fill="#eeeefc"/>
</g>
<rect x="35.5" y="264.5" width="147.0" height="180.0" fill="none" stroke="#555555" stroke-width="1"/>
<line x1="35.5" y1="297.5" x2="38.5" y2="297.5" stroke="#555555" stroke-width="1"/>
<line x1="182.5" y1="297.5" x2="179.5" y2="297.5" stroke="#555555" stroke-width="1"/>
<text x="31.6" y="302.3" font-size="14" text-anchor="end" fill="#1c1c1c" >40°N</text>
<line x1="35.5" y1="361.5" x2="38.5" y2="361.5" stroke="#555555" stroke-width="1"/>
<line x1="182.5" y1="361.5" x2="179.5" y2="361.5" stroke="#555555" stroke-width="1"/>
<text x="31.6" y="366.1" font-size="14" text-anchor="end" fill="#1c1c1c" >37°N</text>
<line x1="35.5" y1="425.5" x2="38.5" y2="425.5" stroke="#555555" stroke-width="1"/>
<line x1="182.5" y1="425.5" x2="179.5" y2="425.5" stroke="#555555" stroke-width="1"/>
<text x="31.6" y="429.9" font-size="14" text-anchor="end" fill="#1c1c1c" >34°N</text>
<line x1="53.5" y1="444.5" x2="53.5" y2="441.5" stroke="#555555" stroke-width="1"/>
<line x1="53.5" y1="264.5" x2="53.5" y2="267.5" stroke="#555555" stroke-width="1"/>
<text x="53.4" y="457.5" font-size="14" text-anchor="middle" fill="#1c1c1c" >136°E</text>
<line x1="109.5" y1="444.5" x2="109.5" y2="441.5" stroke="#555555" stroke-width="1"/>
<line x1="109.5" y1="264.5" x2="109.5" y2="267.5" stroke="#555555" stroke-width="1"/>
<text x="108.7" y="457.5" font-size="14" text-anchor="middle" fill="#1c1c1c" >139°E</text>
<line x1="164.5" y1="444.5" x2="164.5" y2="441.5" stroke="#555555" stroke-width="1"/>
<line x1="164.5" y1="264.5" x2="164.5" y2="267.5" stroke="#555555" stroke-width="1"/>
<text x="163.9" y="457.5" font-size="14" text-anchor="middle" fill="#1c1c1c" >142°E</text>
<text x="45.0" y="291.9" font-size="14" text-anchor="start" fill="#1c1c1c" >(c) Output</text>
<text x="45.0" y="313.1" font-size="14" text-anchor="start" fill="#1c1c1c" >300 km</text>
<rect x="116.3" y="391.2" width="55.7" height="4.6" fill="url(#gCH)" stroke="#666" stroke-width="0.8"/>
<text x="116.0" y="412.5" font-size="12" text-anchor="middle" fill="#1c1c1c" >-3</text>
<text x="144.0" y="412.5" font-size="12" text-anchor="middle" fill="#1c1c1c" >0</text>
<text x="172.0" y="412.5" font-size="12" text-anchor="middle" fill="#1c1c1c" >3</text>
<text x="144.3" y="432.3" font-size="12" fill="#1c1c1c" text-anchor="middle">10<tspan font-size="9.6" dy="-6.4">10</tspan><tspan dy="6.4">m</tspan><tspan font-size="9.6" dy="-6.4">-3</tspan></text>
<line x1="144.5" y1="395.2" x2="144.5" y2="393.5" stroke="#2a2a2a" stroke-width="1"/>
</svg>
</body></html>
